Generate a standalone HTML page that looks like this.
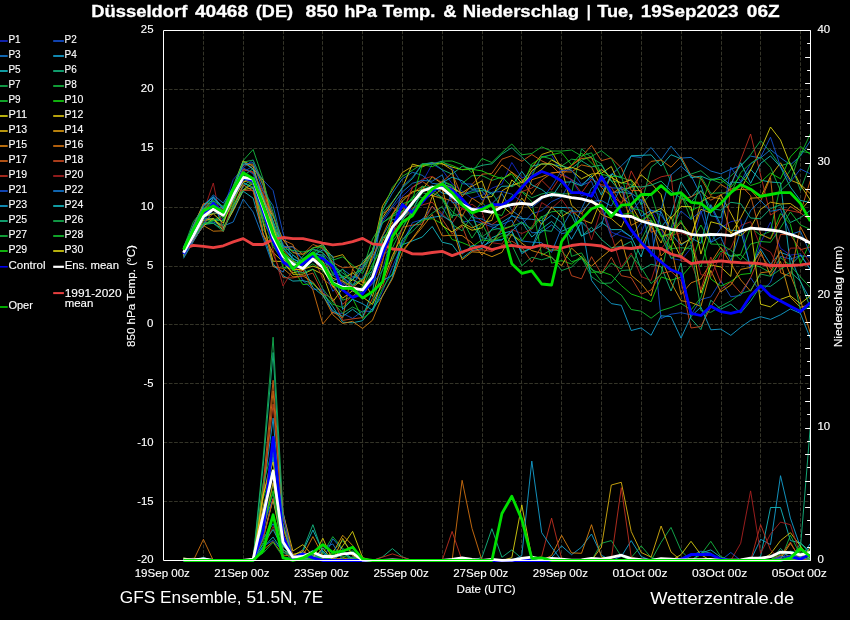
<!DOCTYPE html>
<html><head><meta charset="utf-8"><title>GFS Ensemble</title>
<style>html,body{margin:0;padding:0;background:#000;}body{width:850px;height:620px;position:relative;overflow:hidden;font-family:"Liberation Sans",sans-serif;}</style></head>
<body>
<svg width="850" height="620" viewBox="0 0 850 620" style="display:block;position:absolute;left:0;top:0;will-change:transform">
<rect width="850" height="620" fill="#000"/>
<g stroke="#343428" stroke-width="1" stroke-dasharray="3.7 1.6" fill="none">
<path d="M203.5 30.5 V560.5"/>
<path d="M243.5 30.5 V560.5"/>
<path d="M283.5 30.5 V560.5"/>
<path d="M322.5 30.5 V560.5"/>
<path d="M362.5 30.5 V560.5"/>
<path d="M402.5 30.5 V560.5"/>
<path d="M442.5 30.5 V560.5"/>
<path d="M482.5 30.5 V560.5"/>
<path d="M521.5 30.5 V560.5"/>
<path d="M561.5 30.5 V560.5"/>
<path d="M601.5 30.5 V560.5"/>
<path d="M641.5 30.5 V560.5"/>
<path d="M681.5 30.5 V560.5"/>
<path d="M721.5 30.5 V560.5"/>
<path d="M760.5 30.5 V560.5"/>
<path d="M800.5 30.5 V560.5"/>
<path d="M163.5 89.5 H810.5"/>
<path d="M163.5 148.5 H810.5"/>
<path d="M163.5 207.5 H810.5"/>
<path d="M163.5 266.5 H810.5"/>
<path d="M163.5 324.5 H810.5"/>
<path d="M163.5 383.5 H810.5"/>
<path d="M163.5 442.5 H810.5"/>
<path d="M163.5 501.5 H810.5"/>
</g>
<g fill="none" stroke-width="0.9" stroke-linejoin="round">
<path stroke="#1428c8" d="M183.5 252.5 L193.4 224.7 L203.4 204.6 L213.3 197.5 L223.3 208.9 L233.2 179.6 L243.2 167.7 L253.1 159.8 L263.1 185.4 L273.1 215.9 L283.0 245.0 L292.9 251.1 L302.9 258.5 L312.9 253.0 L322.8 263.0 L332.8 263.3 L342.7 285.6 L352.6 277.6 L362.6 265.4 L372.5 250.6 L382.5 222.4 L392.4 207.9 L402.4 196.3 L412.4 187.0 L422.3 182.1 L432.2 164.2 L442.2 169.8 L452.1 183.7 L462.1 191.1 L472.0 198.5 L482.0 195.1 L491.9 188.2 L501.9 184.1 L511.8 162.5 L521.8 178.0 L531.8 173.6 L541.7 156.7 L551.6 154.9 L561.6 173.2 L571.5 179.6 L581.5 195.8 L591.5 192.6 L601.4 205.5 L611.3 232.1 L621.3 236.0 L631.2 239.2 L641.2 232.8 L651.1 209.7 L661.1 228.0 L671.0 258.3 L681.0 260.3 L691.0 248.1 L700.9 211.8 L710.8 206.6 L720.8 227.7 L730.8 221.7 L740.7 219.5 L750.6 272.0 L760.6 242.7 L770.5 222.1 L780.5 248.3 L790.4 255.1 L800.4 253.8 L810.3 269.4"/>
<path stroke="#1450d0" d="M183.5 253.5 L193.4 235.2 L203.4 226.4 L213.3 208.8 L223.3 220.3 L233.2 202.8 L243.2 172.0 L253.1 166.0 L263.1 180.0 L273.1 190.5 L283.0 233.0 L292.9 262.0 L302.9 280.8 L312.9 289.2 L322.8 289.2 L332.8 312.9 L342.7 313.4 L352.6 318.4 L362.6 311.0 L372.5 311.5 L382.5 291.4 L392.4 267.1 L402.4 243.7 L412.4 222.6 L422.3 219.6 L432.2 206.4 L442.2 215.3 L452.1 192.5 L462.1 222.4 L472.0 220.2 L482.0 223.1 L491.9 226.9 L501.9 229.8 L511.8 214.8 L521.8 224.2 L531.8 213.8 L541.7 210.6 L551.6 201.6 L561.6 197.0 L571.5 179.6 L581.5 185.4 L591.5 181.3 L601.4 207.7 L611.3 237.3 L621.3 230.9 L631.2 236.9 L641.2 222.6 L651.1 221.6 L661.1 318.5 L671.0 314.2 L681.0 312.7 L691.0 314.9 L700.9 299.5 L710.8 296.8 L720.8 280.9 L730.8 296.8 L740.7 295.4 L750.6 277.7 L760.6 292.1 L770.5 282.4 L780.5 256.3 L790.4 259.1 L800.4 255.6 L810.3 257.1"/>
<path stroke="#1478d0" d="M183.5 254.9 L193.4 233.0 L203.4 223.3 L213.3 222.0 L223.3 226.0 L233.2 222.0 L243.2 199.0 L253.1 212.0 L263.1 238.0 L273.1 266.0 L283.0 272.0 L292.9 255.1 L302.9 262.1 L312.9 257.3 L322.8 265.7 L332.8 275.5 L342.7 269.3 L352.6 276.7 L362.6 279.1 L372.5 270.8 L382.5 210.2 L392.4 193.0 L402.4 178.8 L412.4 172.3 L422.3 175.3 L432.2 183.4 L442.2 184.4 L452.1 187.0 L462.1 194.5 L472.0 190.8 L482.0 190.9 L491.9 203.7 L501.9 193.7 L511.8 210.5 L521.8 217.5 L531.8 232.8 L541.7 232.2 L551.6 224.9 L561.6 233.6 L571.5 231.7 L581.5 208.9 L591.5 188.2 L601.4 180.2 L611.3 174.6 L621.3 165.9 L631.2 156.3 L641.2 157.4 L651.1 147.5 L661.1 159.9 L671.0 146.1 L681.0 158.1 L691.0 157.4 L700.9 164.7 L710.8 171.0 L720.8 173.8 L730.8 169.3 L740.7 165.7 L750.6 156.1 L760.6 158.0 L770.5 149.7 L780.5 157.7 L790.4 164.8 L800.4 156.1 L810.3 141.0"/>
<path stroke="#14a0d0" d="M183.5 250.7 L193.4 230.4 L203.4 217.0 L213.3 201.3 L223.3 228.0 L233.2 209.0 L243.2 186.0 L253.1 178.0 L263.1 196.0 L273.1 225.0 L283.0 256.6 L292.9 269.8 L302.9 260.9 L312.9 253.8 L322.8 255.1 L332.8 280.9 L342.7 276.8 L352.6 285.6 L362.6 279.0 L372.5 259.5 L382.5 236.0 L392.4 219.3 L402.4 219.1 L412.4 210.5 L422.3 190.1 L432.2 185.6 L442.2 193.1 L452.1 194.7 L462.1 202.3 L472.0 213.1 L482.0 244.4 L491.9 229.0 L501.9 222.4 L511.8 216.0 L521.8 218.5 L531.8 219.3 L541.7 220.8 L551.6 207.3 L561.6 207.5 L571.5 207.9 L581.5 235.9 L591.5 231.4 L601.4 225.6 L611.3 192.3 L621.3 192.1 L631.2 193.6 L641.2 216.2 L651.1 210.5 L661.1 211.8 L671.0 233.6 L681.0 245.3 L691.0 237.8 L700.9 243.3 L710.8 204.6 L720.8 224.8 L730.8 230.3 L740.7 230.6 L750.6 267.0 L760.6 248.9 L770.5 264.3 L780.5 252.4 L790.4 256.0 L800.4 281.7 L810.3 299.5"/>
<path stroke="#14b8c0" d="M183.5 258.3 L193.4 241.5 L203.4 224.5 L213.3 223.3 L223.3 229.3 L233.2 210.1 L243.2 191.2 L253.1 198.1 L263.1 233.9 L273.1 263.7 L283.0 275.7 L292.9 281.1 L302.9 280.6 L312.9 283.2 L322.8 293.0 L332.8 306.6 L342.7 322.2 L352.6 322.8 L362.6 320.7 L372.5 308.5 L382.5 296.1 L392.4 277.3 L402.4 244.7 L412.4 240.9 L422.3 237.0 L432.2 226.5 L442.2 242.2 L452.1 244.5 L462.1 258.1 L472.0 250.6 L482.0 248.6 L491.9 237.7 L501.9 233.4 L511.8 231.1 L521.8 221.8 L531.8 237.0 L541.7 228.7 L551.6 221.4 L561.6 231.3 L571.5 226.9 L581.5 221.9 L591.5 231.9 L601.4 222.3 L611.3 229.6 L621.3 229.6 L631.2 237.0 L641.2 257.0 L651.1 223.2 L661.1 227.1 L671.0 215.1 L681.0 181.8 L691.0 197.4 L700.9 185.2 L710.8 215.8 L720.8 217.5 L730.8 181.9 L740.7 182.8 L750.6 169.4 L760.6 180.2 L770.5 182.0 L780.5 182.8 L790.4 265.3 L800.4 255.0 L810.3 269.2"/>
<path stroke="#14b880" d="M183.5 253.6 L193.4 237.3 L203.4 218.2 L213.3 218.8 L223.3 220.8 L233.2 195.1 L243.2 175.7 L253.1 168.8 L263.1 197.5 L273.1 226.0 L283.0 245.0 L292.9 254.8 L302.9 263.5 L312.9 251.8 L322.8 257.0 L332.8 272.8 L342.7 276.1 L352.6 280.1 L362.6 267.1 L372.5 249.9 L382.5 223.0 L392.4 214.8 L402.4 207.8 L412.4 198.7 L422.3 187.2 L432.2 193.0 L442.2 197.4 L452.1 215.7 L462.1 214.3 L472.0 225.6 L482.0 237.7 L491.9 239.9 L501.9 239.9 L511.8 230.9 L521.8 252.1 L531.8 247.8 L541.7 230.2 L551.6 231.3 L561.6 209.9 L571.5 215.4 L581.5 236.3 L591.5 227.3 L601.4 239.4 L611.3 247.7 L621.3 246.5 L631.2 241.4 L641.2 270.0 L651.1 264.3 L661.1 266.6 L671.0 291.0 L681.0 263.0 L691.0 318.6 L700.9 329.6 L710.8 300.2 L720.8 309.2 L730.8 304.2 L740.7 313.0 L750.6 301.1 L760.6 285.9 L770.5 286.3 L780.5 279.1 L790.4 272.0 L800.4 281.0 L810.3 307.7"/>
<path stroke="#14b050" d="M183.5 250.1 L193.4 230.7 L203.4 220.0 L213.3 220.4 L223.3 220.7 L233.2 199.2 L243.2 179.3 L253.1 184.8 L263.1 229.3 L273.1 244.7 L283.0 258.9 L292.9 265.2 L302.9 268.1 L312.9 254.7 L322.8 268.9 L332.8 275.3 L342.7 281.4 L352.6 288.4 L362.6 292.4 L372.5 270.1 L382.5 252.3 L392.4 241.3 L402.4 228.5 L412.4 210.6 L422.3 198.3 L432.2 186.9 L442.2 181.7 L452.1 185.8 L462.1 194.7 L472.0 192.7 L482.0 190.3 L491.9 192.7 L501.9 207.9 L511.8 196.3 L521.8 191.1 L531.8 197.7 L541.7 193.9 L551.6 192.0 L561.6 194.0 L571.5 193.7 L581.5 148.7 L591.5 157.8 L601.4 164.1 L611.3 181.0 L621.3 182.5 L631.2 184.5 L641.2 204.3 L651.1 167.3 L661.1 159.3 L671.0 181.7 L681.0 178.4 L691.0 174.1 L700.9 170.7 L710.8 179.1 L720.8 183.3 L730.8 176.0 L740.7 166.5 L750.6 154.7 L760.6 140.7 L770.5 152.2 L780.5 165.8 L790.4 162.8 L800.4 190.3 L810.3 163.8"/>
<path stroke="#14b840" d="M183.5 255.7 L193.4 239.2 L203.4 225.3 L213.3 220.5 L223.3 225.2 L233.2 186.0 L243.2 160.5 L253.1 149.5 L263.1 179.0 L273.1 222.0 L283.0 258.3 L292.9 263.9 L302.9 269.6 L312.9 263.8 L322.8 270.8 L332.8 283.2 L342.7 300.2 L352.6 296.6 L362.6 286.0 L372.5 278.0 L382.5 255.1 L392.4 248.0 L402.4 227.6 L412.4 210.3 L422.3 192.7 L432.2 195.1 L442.2 199.0 L452.1 218.1 L462.1 183.4 L472.0 175.7 L482.0 175.5 L491.9 180.4 L501.9 177.0 L511.8 186.9 L521.8 180.7 L531.8 176.2 L541.7 156.3 L551.6 159.1 L561.6 166.0 L571.5 159.2 L581.5 160.3 L591.5 156.4 L601.4 150.8 L611.3 158.4 L621.3 177.5 L631.2 180.9 L641.2 205.0 L651.1 193.4 L661.1 225.7 L671.0 248.6 L681.0 247.7 L691.0 248.6 L700.9 267.0 L710.8 232.9 L720.8 248.8 L730.8 256.5 L740.7 255.0 L750.6 263.7 L760.6 267.2 L770.5 272.7 L780.5 257.5 L790.4 265.6 L800.4 276.9 L810.3 287.6"/>
<path stroke="#14c030" d="M183.5 247.9 L193.4 227.4 L203.4 203.9 L213.3 200.6 L223.3 211.9 L233.2 196.0 L243.2 182.6 L253.1 187.1 L263.1 208.0 L273.1 227.1 L283.0 253.6 L292.9 261.0 L302.9 269.9 L312.9 256.6 L322.8 246.7 L332.8 263.7 L342.7 277.0 L352.6 273.6 L362.6 269.8 L372.5 239.1 L382.5 222.7 L392.4 216.6 L402.4 211.0 L412.4 196.9 L422.3 197.8 L432.2 194.8 L442.2 180.8 L452.1 185.3 L462.1 202.1 L472.0 213.8 L482.0 202.3 L491.9 213.2 L501.9 215.5 L511.8 196.3 L521.8 191.9 L531.8 201.5 L541.7 255.3 L551.6 249.5 L561.6 251.2 L571.5 261.7 L581.5 258.8 L591.5 268.3 L601.4 281.5 L611.3 288.6 L621.3 295.0 L631.2 309.5 L641.2 311.2 L651.1 318.2 L661.1 310.6 L671.0 307.5 L681.0 303.4 L691.0 309.9 L700.9 297.7 L710.8 264.8 L720.8 251.1 L730.8 255.9 L740.7 254.3 L750.6 227.3 L760.6 235.4 L770.5 231.3 L780.5 185.0 L790.4 170.0 L800.4 155.0 L810.3 134.0"/>
<path stroke="#14d010" d="M183.5 253.1 L193.4 228.8 L203.4 214.7 L213.3 207.7 L223.3 212.8 L233.2 190.6 L243.2 176.0 L253.1 177.8 L263.1 215.9 L273.1 229.4 L283.0 267.5 L292.9 268.5 L302.9 284.6 L312.9 283.6 L322.8 294.3 L332.8 304.2 L342.7 307.6 L352.6 298.4 L362.6 318.5 L372.5 310.8 L382.5 288.4 L392.4 273.5 L402.4 245.9 L412.4 226.2 L422.3 220.3 L432.2 218.6 L442.2 223.8 L452.1 239.5 L462.1 242.6 L472.0 246.8 L482.0 239.8 L491.9 241.4 L501.9 235.9 L511.8 234.7 L521.8 241.0 L531.8 226.6 L541.7 216.0 L551.6 263.2 L561.6 260.6 L571.5 264.0 L581.5 256.2 L591.5 272.4 L601.4 271.6 L611.3 275.1 L621.3 285.5 L631.2 294.0 L641.2 297.4 L651.1 301.7 L661.1 276.9 L671.0 280.2 L681.0 277.1 L691.0 265.7 L700.9 234.3 L710.8 279.0 L720.8 286.0 L730.8 281.5 L740.7 274.5 L750.6 273.4 L760.6 234.5 L770.5 238.5 L780.5 213.5 L790.4 224.2 L800.4 263.7 L810.3 241.6"/>
<path stroke="#d8d010" d="M183.5 256.9 L193.4 239.8 L203.4 220.4 L213.3 218.7 L223.3 230.3 L233.2 205.4 L243.2 189.7 L253.1 183.2 L263.1 222.5 L273.1 261.2 L283.0 261.5 L292.9 274.3 L302.9 274.2 L312.9 269.4 L322.8 274.4 L332.8 301.7 L342.7 288.5 L352.6 279.5 L362.6 285.4 L372.5 253.5 L382.5 217.6 L392.4 202.4 L402.4 187.9 L412.4 164.1 L422.3 166.8 L432.2 162.9 L442.2 163.8 L452.1 167.1 L462.1 169.7 L472.0 168.2 L482.0 197.5 L491.9 196.6 L501.9 179.5 L511.8 172.2 L521.8 183.1 L531.8 176.1 L541.7 169.6 L551.6 160.0 L561.6 165.4 L571.5 170.7 L581.5 178.8 L591.5 174.0 L601.4 173.3 L611.3 166.5 L621.3 189.5 L631.2 187.6 L641.2 174.8 L651.1 183.3 L661.1 194.6 L671.0 237.7 L681.0 257.4 L691.0 235.0 L700.9 293.1 L710.8 264.9 L720.8 267.0 L730.8 276.4 L740.7 190.0 L750.6 170.0 L760.6 150.0 L770.5 127.0 L780.5 140.0 L790.4 165.0 L800.4 185.0 L810.3 200.0"/>
<path stroke="#d8c010" d="M183.5 255.7 L193.4 239.5 L203.4 226.1 L213.3 218.5 L223.3 227.6 L233.2 210.9 L243.2 189.8 L253.1 187.7 L263.1 234.1 L273.1 252.5 L283.0 261.8 L292.9 272.9 L302.9 270.4 L312.9 259.9 L322.8 261.3 L332.8 278.4 L342.7 281.0 L352.6 287.4 L362.6 279.5 L372.5 296.4 L382.5 261.9 L392.4 214.5 L402.4 201.0 L412.4 191.6 L422.3 189.6 L432.2 176.8 L442.2 183.7 L452.1 188.4 L462.1 192.9 L472.0 186.3 L482.0 180.9 L491.9 207.4 L501.9 205.7 L511.8 214.2 L521.8 198.1 L531.8 211.0 L541.7 224.6 L551.6 207.0 L561.6 216.6 L571.5 210.3 L581.5 219.4 L591.5 223.4 L601.4 198.8 L611.3 175.1 L621.3 197.1 L631.2 205.0 L641.2 222.4 L651.1 212.4 L661.1 236.6 L671.0 234.2 L681.0 222.4 L691.0 235.1 L700.9 209.3 L710.8 213.0 L720.8 194.5 L730.8 213.2 L740.7 232.1 L750.6 227.6 L760.6 209.4 L770.5 202.2 L780.5 204.0 L790.4 203.5 L800.4 210.7 L810.3 199.1"/>
<path stroke="#d8b010" d="M183.5 255.0 L193.4 232.9 L203.4 209.3 L213.3 206.7 L223.3 208.3 L233.2 187.8 L243.2 160.9 L253.1 166.2 L263.1 199.8 L273.1 216.0 L283.0 239.7 L292.9 252.6 L302.9 254.4 L312.9 247.9 L322.8 244.8 L332.8 257.5 L342.7 254.6 L352.6 268.3 L362.6 263.9 L372.5 250.9 L382.5 205.8 L392.4 189.9 L402.4 172.5 L412.4 166.4 L422.3 165.4 L432.2 163.7 L442.2 163.7 L452.1 169.9 L462.1 222.6 L472.0 228.0 L482.0 223.2 L491.9 220.4 L501.9 190.8 L511.8 185.2 L521.8 182.5 L531.8 167.8 L541.7 154.5 L551.6 151.2 L561.6 168.4 L571.5 205.3 L581.5 213.8 L591.5 199.3 L601.4 214.4 L611.3 218.6 L621.3 227.2 L631.2 205.7 L641.2 246.8 L651.1 226.2 L661.1 243.0 L671.0 216.5 L681.0 244.0 L691.0 239.0 L700.9 201.6 L710.8 196.8 L720.8 198.8 L730.8 233.5 L740.7 217.9 L750.6 198.2 L760.6 197.6 L770.5 176.3 L780.5 162.8 L790.4 180.1 L800.4 184.2 L810.3 193.7"/>
<path stroke="#d89810" d="M183.5 249.7 L193.4 225.7 L203.4 203.9 L213.3 203.7 L223.3 212.2 L233.2 189.2 L243.2 161.3 L253.1 168.8 L263.1 180.2 L273.1 226.6 L283.0 250.0 L292.9 261.5 L302.9 264.3 L312.9 254.9 L322.8 263.4 L332.8 287.2 L342.7 279.7 L352.6 272.5 L362.6 282.3 L372.5 282.0 L382.5 241.6 L392.4 221.9 L402.4 250.8 L412.4 238.5 L422.3 224.7 L432.2 196.5 L442.2 188.7 L452.1 225.4 L462.1 259.7 L472.0 251.9 L482.0 252.5 L491.9 256.7 L501.9 252.4 L511.8 234.4 L521.8 243.1 L531.8 250.6 L541.7 253.4 L551.6 257.6 L561.6 265.8 L571.5 248.0 L581.5 257.4 L591.5 266.2 L601.4 257.4 L611.3 249.1 L621.3 239.5 L631.2 275.3 L641.2 283.5 L651.1 295.9 L661.1 257.7 L671.0 282.3 L681.0 300.7 L691.0 302.5 L700.9 306.4 L710.8 270.4 L720.8 291.9 L730.8 285.0 L740.7 269.4 L750.6 267.4 L760.6 251.3 L770.5 275.6 L780.5 261.5 L790.4 297.3 L800.4 307.3 L810.3 304.6"/>
<path stroke="#d88010" d="M183.5 255.4 L193.4 240.8 L203.4 225.5 L213.3 231.2 L223.3 230.8 L233.2 206.4 L243.2 184.8 L253.1 191.1 L263.1 220.8 L273.1 266.6 L283.0 268.3 L292.9 276.9 L302.9 275.8 L312.9 282.1 L322.8 294.7 L332.8 314.7 L342.7 323.5 L352.6 321.3 L362.6 328.5 L372.5 320.2 L382.5 296.0 L392.4 278.8 L402.4 252.2 L412.4 239.1 L422.3 227.2 L432.2 214.5 L442.2 235.9 L452.1 235.2 L462.1 235.6 L472.0 242.8 L482.0 255.0 L491.9 243.0 L501.9 230.2 L511.8 225.9 L521.8 209.9 L531.8 179.7 L541.7 176.7 L551.6 172.8 L561.6 172.2 L571.5 165.3 L581.5 158.5 L591.5 157.6 L601.4 179.1 L611.3 194.4 L621.3 187.2 L631.2 225.4 L641.2 220.1 L651.1 220.6 L661.1 256.0 L671.0 245.5 L681.0 294.6 L691.0 282.9 L700.9 279.1 L710.8 262.8 L720.8 247.2 L730.8 263.5 L740.7 279.9 L750.6 291.2 L760.6 272.8 L770.5 271.5 L780.5 250.0 L790.4 275.0 L800.4 300.0 L810.3 333.0"/>
<path stroke="#d07010" d="M183.5 253.0 L193.4 235.6 L203.4 208.7 L213.3 204.2 L223.3 211.8 L233.2 187.5 L243.2 165.0 L253.1 164.1 L263.1 185.3 L273.1 228.7 L283.0 239.9 L292.9 244.5 L302.9 270.0 L312.9 290.0 L322.8 324.0 L332.8 312.0 L342.7 318.0 L352.6 269.0 L362.6 283.0 L372.5 256.8 L382.5 235.4 L392.4 213.9 L402.4 198.2 L412.4 192.9 L422.3 186.2 L432.2 196.0 L442.2 197.8 L452.1 201.1 L462.1 216.4 L472.0 198.1 L482.0 204.7 L491.9 178.6 L501.9 164.9 L511.8 172.3 L521.8 179.3 L531.8 194.5 L541.7 180.0 L551.6 173.2 L561.6 171.5 L571.5 172.1 L581.5 164.9 L591.5 167.1 L601.4 187.5 L611.3 196.2 L621.3 202.6 L631.2 194.6 L641.2 171.4 L651.1 161.4 L661.1 160.0 L671.0 167.2 L681.0 156.7 L691.0 175.4 L700.9 178.4 L710.8 195.5 L720.8 184.4 L730.8 190.5 L740.7 189.3 L750.6 190.0 L760.6 201.2 L770.5 177.7 L780.5 272.7 L790.4 276.4 L800.4 226.7 L810.3 245.4"/>
<path stroke="#d06018" d="M183.5 254.2 L193.4 237.9 L203.4 223.6 L213.3 213.3 L223.3 213.9 L233.2 192.5 L243.2 169.1 L253.1 172.4 L263.1 194.3 L273.1 214.4 L283.0 247.9 L292.9 246.3 L302.9 254.5 L312.9 244.4 L322.8 248.2 L332.8 262.4 L342.7 267.8 L352.6 266.9 L362.6 269.3 L372.5 251.8 L382.5 213.7 L392.4 207.5 L402.4 213.8 L412.4 187.4 L422.3 181.4 L432.2 188.3 L442.2 181.8 L452.1 173.1 L462.1 197.0 L472.0 184.4 L482.0 174.2 L491.9 173.4 L501.9 159.2 L511.8 155.7 L521.8 161.3 L531.8 154.5 L541.7 160.8 L551.6 165.6 L561.6 175.7 L571.5 165.5 L581.5 157.1 L591.5 145.3 L601.4 160.7 L611.3 157.9 L621.3 167.9 L631.2 190.5 L641.2 190.6 L651.1 232.3 L661.1 229.0 L671.0 240.3 L681.0 199.8 L691.0 196.8 L700.9 191.4 L710.8 200.2 L720.8 194.9 L730.8 189.3 L740.7 185.4 L750.6 195.6 L760.6 234.1 L770.5 239.1 L780.5 219.1 L790.4 206.4 L800.4 212.8 L810.3 180.5"/>
<path stroke="#c84820" d="M183.5 249.0 L193.4 230.4 L203.4 213.5 L213.3 203.4 L223.3 214.2 L233.2 188.6 L243.2 190.5 L253.1 190.3 L263.1 235.4 L273.1 253.9 L283.0 277.7 L292.9 277.9 L302.9 276.1 L312.9 273.1 L322.8 293.4 L332.8 298.5 L342.7 320.4 L352.6 318.9 L362.6 317.6 L372.5 298.4 L382.5 286.6 L392.4 260.2 L402.4 227.3 L412.4 225.1 L422.3 224.2 L432.2 206.1 L442.2 219.2 L452.1 233.8 L462.1 226.2 L472.0 251.3 L482.0 249.8 L491.9 251.5 L501.9 245.4 L511.8 241.1 L521.8 247.3 L531.8 262.2 L541.7 246.3 L551.6 250.7 L561.6 248.1 L571.5 275.7 L581.5 278.8 L591.5 256.7 L601.4 273.8 L611.3 257.2 L621.3 275.7 L631.2 277.7 L641.2 294.2 L651.1 290.0 L661.1 273.4 L671.0 271.4 L681.0 280.5 L691.0 328.0 L700.9 326.5 L710.8 307.2 L720.8 289.5 L730.8 281.9 L740.7 293.0 L750.6 277.7 L760.6 254.3 L770.5 268.6 L780.5 234.4 L790.4 234.9 L800.4 249.8 L810.3 246.9"/>
<path stroke="#c03020" d="M183.5 252.0 L193.4 239.0 L203.4 203.6 L213.3 207.7 L223.3 209.9 L233.2 193.6 L243.2 169.8 L253.1 172.0 L263.1 191.7 L273.1 230.9 L283.0 256.8 L292.9 266.4 L302.9 272.7 L312.9 254.9 L322.8 279.2 L332.8 286.2 L342.7 304.3 L352.6 295.8 L362.6 292.9 L372.5 283.5 L382.5 260.0 L392.4 234.1 L402.4 220.2 L412.4 207.8 L422.3 205.0 L432.2 202.2 L442.2 213.9 L452.1 223.2 L462.1 208.7 L472.0 212.9 L482.0 221.8 L491.9 224.6 L501.9 218.0 L511.8 212.1 L521.8 191.6 L531.8 188.1 L541.7 180.3 L551.6 190.1 L561.6 174.9 L571.5 179.6 L581.5 192.9 L591.5 179.1 L601.4 184.7 L611.3 187.0 L621.3 205.2 L631.2 170.9 L641.2 189.8 L651.1 181.8 L661.1 176.8 L671.0 174.9 L681.0 261.0 L691.0 262.1 L700.9 289.7 L710.8 257.0 L720.8 282.9 L730.8 185.0 L740.7 160.0 L750.6 134.0 L760.6 175.0 L770.5 215.0 L780.5 208.9 L790.4 210.7 L800.4 212.8 L810.3 220.5"/>
<path stroke="#a82020" d="M183.5 252.9 L193.4 233.5 L203.4 212.0 L213.3 183.0 L223.3 232.0 L233.2 200.0 L243.2 181.5 L253.1 181.3 L263.1 209.3 L273.1 250.0 L283.0 286.0 L292.9 270.0 L302.9 268.9 L312.9 257.2 L322.8 264.1 L332.8 268.6 L342.7 282.7 L352.6 285.7 L362.6 291.0 L372.5 277.1 L382.5 250.8 L392.4 234.8 L402.4 212.6 L412.4 187.4 L422.3 179.3 L432.2 176.3 L442.2 182.6 L452.1 199.5 L462.1 208.9 L472.0 204.2 L482.0 211.6 L491.9 242.7 L501.9 244.1 L511.8 229.5 L521.8 233.5 L531.8 229.2 L541.7 202.6 L551.6 208.5 L561.6 199.4 L571.5 213.1 L581.5 211.1 L591.5 239.9 L601.4 208.8 L611.3 234.5 L621.3 267.2 L631.2 253.0 L641.2 276.6 L651.1 280.5 L661.1 249.2 L671.0 235.4 L681.0 232.7 L691.0 237.0 L700.9 274.7 L710.8 276.5 L720.8 253.4 L730.8 248.3 L740.7 225.4 L750.6 221.7 L760.6 246.5 L770.5 252.1 L780.5 270.7 L790.4 248.1 L800.4 248.1 L810.3 263.6"/>
<path stroke="#1450d0" d="M183.5 257.0 L193.4 240.7 L203.4 225.1 L213.3 196.4 L223.3 208.4 L233.2 190.4 L243.2 167.6 L253.1 174.0 L263.1 200.2 L273.1 227.9 L283.0 255.7 L292.9 267.2 L302.9 268.2 L312.9 260.9 L322.8 265.9 L332.8 291.3 L342.7 282.5 L352.6 291.3 L362.6 292.7 L372.5 284.2 L382.5 270.4 L392.4 233.3 L402.4 186.5 L412.4 177.4 L422.3 163.8 L432.2 163.5 L442.2 161.4 L452.1 168.4 L462.1 183.8 L472.0 184.1 L482.0 200.2 L491.9 192.2 L501.9 191.5 L511.8 194.1 L521.8 201.7 L531.8 207.5 L541.7 199.6 L551.6 186.2 L561.6 170.4 L571.5 170.0 L581.5 184.4 L591.5 177.8 L601.4 186.5 L611.3 187.8 L621.3 188.3 L631.2 212.1 L641.2 199.5 L651.1 210.3 L661.1 215.1 L671.0 229.9 L681.0 211.0 L691.0 219.6 L700.9 210.9 L710.8 242.3 L720.8 228.2 L730.8 167.3 L740.7 181.5 L750.6 163.9 L760.6 157.4 L770.5 137.2 L780.5 166.3 L790.4 181.9 L800.4 169.0 L810.3 173.8"/>
<path stroke="#1478d0" d="M183.5 247.0 L193.4 226.0 L203.4 207.0 L213.3 194.9 L223.3 203.1 L233.2 186.8 L243.2 164.5 L253.1 162.6 L263.1 190.6 L273.1 205.8 L283.0 246.7 L292.9 247.0 L302.9 260.1 L312.9 248.9 L322.8 252.6 L332.8 263.8 L342.7 277.9 L352.6 285.7 L362.6 268.4 L372.5 254.0 L382.5 219.8 L392.4 205.9 L402.4 191.9 L412.4 183.3 L422.3 180.4 L432.2 181.2 L442.2 174.9 L452.1 202.7 L462.1 203.0 L472.0 217.3 L482.0 219.0 L491.9 225.1 L501.9 224.4 L511.8 220.1 L521.8 241.0 L531.8 242.1 L541.7 242.7 L551.6 252.3 L561.6 227.9 L571.5 211.0 L581.5 211.3 L591.5 201.5 L601.4 200.4 L611.3 206.1 L621.3 186.7 L631.2 193.2 L641.2 199.9 L651.1 256.6 L661.1 209.6 L671.0 174.9 L681.0 166.4 L691.0 175.3 L700.9 195.7 L710.8 242.5 L720.8 236.9 L730.8 261.0 L740.7 231.2 L750.6 210.6 L760.6 200.4 L770.5 211.3 L780.5 209.3 L790.4 234.6 L800.4 231.1 L810.3 253.4"/>
<path stroke="#14a0d0" d="M183.5 253.9 L193.4 234.4 L203.4 209.9 L213.3 198.5 L223.3 209.1 L233.2 199.9 L243.2 182.6 L253.1 188.6 L263.1 216.6 L273.1 233.0 L283.0 248.2 L292.9 259.3 L302.9 262.2 L312.9 256.3 L322.8 249.7 L332.8 256.3 L342.7 309.5 L352.6 299.4 L362.6 303.7 L372.5 310.3 L382.5 280.6 L392.4 275.3 L402.4 239.9 L412.4 227.2 L422.3 219.0 L432.2 217.4 L442.2 215.8 L452.1 221.8 L462.1 254.1 L472.0 245.6 L482.0 246.3 L491.9 241.3 L501.9 239.8 L511.8 231.4 L521.8 253.7 L531.8 247.6 L541.7 222.9 L551.6 215.1 L561.6 222.5 L571.5 239.3 L581.5 222.1 L591.5 280.3 L601.4 293.6 L611.3 303.6 L621.3 305.3 L631.2 330.5 L641.2 327.9 L651.1 335.3 L661.1 315.8 L671.0 316.6 L681.0 338.1 L691.0 316.4 L700.9 307.1 L710.8 329.8 L720.8 329.1 L730.8 335.4 L740.7 327.3 L750.6 320.3 L760.6 316.7 L770.5 319.4 L780.5 314.8 L790.4 308.9 L800.4 313.4 L810.3 338.3"/>
<path stroke="#14b8c0" d="M183.5 248.0 L193.4 231.6 L203.4 205.7 L213.3 197.0 L223.3 207.5 L233.2 191.0 L243.2 162.1 L253.1 169.1 L263.1 199.0 L273.1 221.0 L283.0 247.3 L292.9 258.1 L302.9 265.5 L312.9 287.3 L322.8 295.6 L332.8 310.7 L342.7 316.4 L352.6 309.3 L362.6 316.9 L372.5 291.5 L382.5 237.5 L392.4 235.7 L402.4 220.0 L412.4 205.0 L422.3 190.3 L432.2 190.0 L442.2 182.7 L452.1 177.1 L462.1 180.7 L472.0 189.3 L482.0 188.5 L491.9 194.3 L501.9 186.3 L511.8 186.0 L521.8 171.4 L531.8 184.9 L541.7 189.5 L551.6 197.2 L561.6 182.3 L571.5 181.9 L581.5 186.0 L591.5 175.4 L601.4 195.0 L611.3 174.1 L621.3 178.0 L631.2 155.7 L641.2 155.4 L651.1 154.9 L661.1 166.1 L671.0 154.7 L681.0 158.8 L691.0 177.8 L700.9 176.1 L710.8 180.2 L720.8 177.1 L730.8 185.1 L740.7 162.8 L750.6 183.3 L760.6 163.4 L770.5 155.9 L780.5 166.9 L790.4 187.1 L800.4 200.4 L810.3 202.6"/>
<path stroke="#14b880" d="M183.5 255.7 L193.4 238.7 L203.4 217.5 L213.3 213.1 L223.3 212.8 L233.2 200.8 L243.2 173.1 L253.1 180.8 L263.1 208.8 L273.1 224.0 L283.0 252.7 L292.9 262.8 L302.9 262.1 L312.9 253.8 L322.8 243.4 L332.8 265.0 L342.7 273.0 L352.6 279.8 L362.6 261.7 L372.5 251.0 L382.5 213.1 L392.4 201.8 L402.4 187.7 L412.4 178.7 L422.3 164.5 L432.2 162.3 L442.2 169.7 L452.1 174.2 L462.1 166.3 L472.0 168.9 L482.0 165.3 L491.9 163.8 L501.9 154.1 L511.8 147.6 L521.8 157.1 L531.8 166.3 L541.7 163.9 L551.6 164.4 L561.6 166.2 L571.5 168.5 L581.5 160.9 L591.5 166.9 L601.4 165.0 L611.3 181.1 L621.3 192.5 L631.2 186.4 L641.2 187.0 L651.1 185.2 L661.1 181.1 L671.0 191.1 L681.0 198.1 L691.0 202.3 L700.9 190.3 L710.8 208.3 L720.8 210.2 L730.8 202.3 L740.7 203.7 L750.6 218.0 L760.6 218.7 L770.5 208.6 L780.5 204.8 L790.4 222.5 L800.4 217.7 L810.3 210.4"/>
<path stroke="#14b050" d="M183.5 250.5 L193.4 238.4 L203.4 223.3 L213.3 223.3 L223.3 231.3 L233.2 205.8 L243.2 190.3 L253.1 180.0 L263.1 222.2 L273.1 239.0 L283.0 251.5 L292.9 270.4 L302.9 272.9 L312.9 269.0 L322.8 288.8 L332.8 301.9 L342.7 313.3 L352.6 307.0 L362.6 312.2 L372.5 302.8 L382.5 269.1 L392.4 259.5 L402.4 239.4 L412.4 231.4 L422.3 221.4 L432.2 213.2 L442.2 206.6 L452.1 224.4 L462.1 230.8 L472.0 215.7 L482.0 236.8 L491.9 230.0 L501.9 227.9 L511.8 244.8 L521.8 265.7 L531.8 257.3 L541.7 259.8 L551.6 256.8 L561.6 270.6 L571.5 267.0 L581.5 257.3 L591.5 276.7 L601.4 283.6 L611.3 282.9 L621.3 270.5 L631.2 269.9 L641.2 240.5 L651.1 220.0 L661.1 235.8 L671.0 258.3 L681.0 253.8 L691.0 244.7 L700.9 310.7 L710.8 312.3 L720.8 306.3 L730.8 300.8 L740.7 293.7 L750.6 290.4 L760.6 274.0 L770.5 276.3 L780.5 269.2 L790.4 263.2 L800.4 310.2 L810.3 307.4"/>
<path stroke="#14b840" d="M183.5 247.7 L193.4 221.7 L203.4 208.8 L213.3 201.0 L223.3 206.3 L233.2 187.0 L243.2 162.1 L253.1 160.1 L263.1 183.4 L273.1 212.3 L283.0 248.6 L292.9 250.4 L302.9 252.0 L312.9 249.6 L322.8 252.7 L332.8 274.5 L342.7 269.3 L352.6 284.8 L362.6 279.2 L372.5 267.6 L382.5 237.9 L392.4 227.1 L402.4 210.9 L412.4 205.9 L422.3 186.3 L432.2 187.8 L442.2 198.3 L452.1 211.4 L462.1 219.3 L472.0 238.1 L482.0 223.5 L491.9 242.4 L501.9 228.5 L511.8 226.3 L521.8 222.5 L531.8 229.0 L541.7 217.0 L551.6 211.8 L561.6 210.7 L571.5 256.4 L581.5 252.9 L591.5 269.5 L601.4 273.9 L611.3 263.1 L621.3 269.0 L631.2 255.3 L641.2 267.4 L651.1 283.6 L661.1 274.2 L671.0 228.0 L681.0 193.9 L691.0 219.2 L700.9 176.4 L710.8 193.3 L720.8 192.8 L730.8 193.4 L740.7 172.6 L750.6 163.4 L760.6 156.8 L770.5 167.4 L780.5 190.9 L790.4 181.6 L800.4 151.2 L810.3 153.0"/>
<path stroke="#14c030" d="M183.5 254.0 L193.4 238.0 L203.4 223.6 L213.3 220.4 L223.3 215.2 L233.2 193.0 L243.2 178.3 L253.1 183.6 L263.1 217.0 L273.1 246.6 L283.0 260.7 L292.9 269.9 L302.9 256.0 L312.9 248.0 L322.8 246.4 L332.8 260.2 L342.7 256.8 L352.6 265.2 L362.6 273.7 L372.5 251.0 L382.5 210.6 L392.4 187.3 L402.4 176.4 L412.4 170.3 L422.3 163.7 L432.2 164.7 L442.2 161.1 L452.1 161.0 L462.1 164.5 L472.0 172.4 L482.0 158.5 L491.9 162.5 L501.9 152.7 L511.8 144.0 L521.8 154.8 L531.8 153.5 L541.7 146.9 L551.6 151.0 L561.6 151.1 L571.5 150.0 L581.5 156.0 L591.5 152.8 L601.4 174.2 L611.3 176.6 L621.3 176.2 L631.2 208.1 L641.2 210.4 L651.1 219.5 L661.1 236.7 L671.0 233.2 L681.0 220.3 L691.0 243.8 L700.9 225.0 L710.8 244.0 L720.8 244.4 L730.8 250.2 L740.7 259.9 L750.6 244.0 L760.6 241.5 L770.5 242.3 L780.5 227.7 L790.4 212.0 L800.4 224.8 L810.3 229.5"/>
<path stroke="#14d010" d="M183.5 249.6 L193.4 236.1 L203.4 211.8 L213.3 202.5 L223.3 218.6 L233.2 204.2 L243.2 176.5 L253.1 180.0 L263.1 208.0 L273.1 228.4 L283.0 252.7 L292.9 260.2 L302.9 267.9 L312.9 259.1 L322.8 257.6 L332.8 263.8 L342.7 279.2 L352.6 288.8 L362.6 288.5 L372.5 264.0 L382.5 247.7 L392.4 216.6 L402.4 203.8 L412.4 200.4 L422.3 164.4 L432.2 166.7 L442.2 162.3 L452.1 165.4 L462.1 169.8 L472.0 169.3 L482.0 170.9 L491.9 175.3 L501.9 178.8 L511.8 174.1 L521.8 188.2 L531.8 164.1 L541.7 157.6 L551.6 154.7 L561.6 152.5 L571.5 164.8 L581.5 153.0 L591.5 163.0 L601.4 173.0 L611.3 199.2 L621.3 214.6 L631.2 212.9 L641.2 220.2 L651.1 214.5 L661.1 234.3 L671.0 250.4 L681.0 194.6 L691.0 210.7 L700.9 205.9 L710.8 179.0 L720.8 179.5 L730.8 187.3 L740.7 175.8 L750.6 185.5 L760.6 182.3 L770.5 173.0 L780.5 178.8 L790.4 156.9 L800.4 146.3 L810.3 154.4"/>
<path stroke="#d8d010" d="M183.5 254.3 L193.4 239.0 L203.4 216.1 L213.3 213.8 L223.3 223.0 L233.2 199.6 L243.2 182.2 L253.1 178.2 L263.1 200.2 L273.1 227.0 L283.0 258.8 L292.9 269.8 L302.9 269.3 L312.9 266.1 L322.8 269.6 L332.8 285.6 L342.7 298.2 L352.6 290.7 L362.6 296.9 L372.5 304.4 L382.5 282.5 L392.4 255.6 L402.4 235.1 L412.4 212.3 L422.3 200.2 L432.2 194.5 L442.2 225.7 L452.1 231.9 L462.1 224.8 L472.0 230.2 L482.0 227.9 L491.9 213.8 L501.9 204.1 L511.8 179.9 L521.8 188.9 L531.8 170.7 L541.7 164.0 L551.6 163.7 L561.6 169.3 L571.5 167.2 L581.5 170.8 L591.5 177.3 L601.4 169.4 L611.3 177.4 L621.3 183.3 L631.2 179.6 L641.2 193.0 L651.1 213.5 L661.1 208.3 L671.0 218.4 L681.0 206.4 L691.0 206.7 L700.9 254.1 L710.8 221.8 L720.8 224.4 L730.8 232.8 L740.7 235.6 L750.6 227.3 L760.6 304.2 L770.5 306.9 L780.5 299.4 L790.4 295.8 L800.4 303.7 L810.3 295.7"/>
<path stroke="#1428c8" d="M183.5 560.0 L193.4 559.4 L203.4 559.2 L213.3 560.5 L223.3 560.5 L233.2 560.5 L243.2 560.5 L253.1 559.6 L263.1 527.2 L273.1 498.4 L283.0 534.1 L292.9 557.1 L302.9 560.5 L312.9 560.5 L322.8 560.5 L332.8 560.5 L342.7 560.5 L352.6 560.5 L362.6 560.5 L372.5 560.5 L382.5 560.5 L392.4 560.5 L402.4 560.5 L412.4 560.5 L422.3 560.5 L432.2 560.5 L442.2 560.5 L452.1 560.5 L462.1 560.5 L472.0 560.5 L482.0 560.5 L491.9 560.5 L501.9 560.5 L511.8 560.5 L521.8 560.5 L531.8 560.5 L541.7 560.5 L551.6 560.5 L561.6 560.5 L571.5 560.5 L581.5 560.5 L591.5 560.5 L601.4 560.5 L611.3 560.5 L621.3 560.5 L631.2 560.5 L641.2 560.5 L651.1 560.5 L661.1 560.5 L671.0 560.5 L681.0 560.5 L691.0 560.5 L700.9 560.5 L710.8 560.5 L720.8 560.5 L730.8 560.5 L740.7 560.5 L750.6 560.5 L760.6 560.5 L770.5 560.5 L780.5 560.5 L790.4 558.2 L800.4 560.5 L810.3 558.0"/>
<path stroke="#1450d0" d="M183.5 559.1 L193.4 558.7 L203.4 559.6 L213.3 560.5 L223.3 560.5 L233.2 560.5 L243.2 560.5 L253.1 559.2 L263.1 546.5 L273.1 540.3 L283.0 551.7 L292.9 556.4 L302.9 560.5 L312.9 560.5 L322.8 560.5 L332.8 560.5 L342.7 560.5 L352.6 560.5 L362.6 560.5 L372.5 560.5 L382.5 560.5 L392.4 560.5 L402.4 560.5 L412.4 560.5 L422.3 560.5 L432.2 560.5 L442.2 560.5 L452.1 560.5 L462.1 560.5 L472.0 560.5 L482.0 560.5 L491.9 560.5 L501.9 560.5 L511.8 560.5 L521.8 560.5 L531.8 560.5 L541.7 560.5 L551.6 560.5 L561.6 560.5 L571.5 560.5 L581.5 560.5 L591.5 560.5 L601.4 560.5 L611.3 560.5 L621.3 560.5 L631.2 560.5 L641.2 560.5 L651.1 560.5 L661.1 560.5 L671.0 560.5 L681.0 560.5 L691.0 560.5 L700.9 560.5 L710.8 560.5 L720.8 560.5 L730.8 552.5 L740.7 560.5 L750.6 560.5 L760.6 560.5 L770.5 560.5 L780.5 556.9 L790.4 555.5 L800.4 556.4 L810.3 547.2"/>
<path stroke="#1478d0" d="M183.5 560.1 L193.4 560.5 L203.4 559.7 L213.3 560.5 L223.3 560.5 L233.2 560.5 L243.2 560.5 L253.1 559.2 L263.1 521.5 L273.1 499.7 L283.0 542.8 L292.9 557.2 L302.9 560.5 L312.9 560.5 L322.8 560.5 L332.8 538.8 L342.7 549.9 L352.6 560.5 L362.6 560.5 L372.5 560.5 L382.5 560.5 L392.4 560.5 L402.4 560.5 L412.4 560.5 L422.3 560.5 L432.2 560.5 L442.2 560.5 L452.1 560.5 L462.1 560.5 L472.0 560.5 L482.0 560.5 L491.9 560.5 L501.9 560.5 L511.8 560.5 L521.8 560.5 L531.8 560.5 L541.7 560.5 L551.6 560.5 L561.6 560.5 L571.5 560.5 L581.5 560.5 L591.5 560.5 L601.4 560.5 L611.3 560.5 L621.3 560.5 L631.2 560.5 L641.2 560.5 L651.1 560.5 L661.1 560.5 L671.0 560.5 L681.0 560.5 L691.0 555.9 L700.9 551.2 L710.8 553.1 L720.8 560.5 L730.8 560.5 L740.7 560.5 L750.6 560.5 L760.6 560.5 L770.5 560.5 L780.5 560.5 L790.4 560.4 L800.4 560.5 L810.3 559.4"/>
<path stroke="#14a0d0" d="M183.5 560.5 L193.4 558.8 L203.4 560.0 L213.3 560.5 L223.3 560.5 L233.2 560.5 L243.2 560.5 L253.1 558.8 L263.1 494.0 L273.1 418.1 L283.0 535.4 L292.9 557.9 L302.9 557.8 L312.9 550.2 L322.8 560.5 L332.8 558.8 L342.7 560.5 L352.6 556.9 L362.6 560.5 L372.5 560.5 L382.5 560.5 L392.4 560.5 L402.4 560.5 L412.4 560.5 L422.3 560.5 L432.2 560.5 L442.2 560.5 L452.1 560.5 L462.1 560.5 L472.0 560.5 L482.0 560.5 L491.9 560.5 L501.9 560.5 L511.8 560.5 L521.8 560.5 L531.8 560.5 L541.7 560.5 L551.6 557.6 L561.6 545.9 L571.5 554.7 L581.5 547.2 L591.5 534.0 L601.4 555.2 L611.3 560.5 L621.3 556.5 L631.2 540.6 L641.2 556.5 L651.1 560.5 L661.1 560.5 L671.0 560.5 L681.0 560.5 L691.0 560.5 L700.9 560.5 L710.8 560.5 L720.8 560.5 L730.8 560.5 L740.7 560.5 L750.6 560.5 L760.6 539.3 L770.5 544.6 L780.5 475.7 L790.4 518.1 L800.4 547.0 L810.3 560.5"/>
<path stroke="#14b8c0" d="M183.5 558.1 L193.4 559.1 L203.4 559.2 L213.3 560.5 L223.3 560.5 L233.2 560.5 L243.2 560.5 L253.1 560.0 L263.1 547.4 L273.1 537.1 L283.0 551.7 L292.9 559.9 L302.9 551.4 L312.9 530.0 L322.8 551.4 L332.8 560.5 L342.7 560.5 L352.6 560.4 L362.6 560.5 L372.5 560.5 L382.5 560.5 L392.4 560.5 L402.4 560.5 L412.4 560.5 L422.3 560.5 L432.2 560.5 L442.2 560.5 L452.1 560.5 L462.1 560.5 L472.0 560.5 L482.0 560.5 L491.9 560.5 L501.9 560.5 L511.8 560.5 L521.8 560.5 L531.8 560.5 L541.7 560.5 L551.6 560.5 L561.6 560.5 L571.5 560.5 L581.5 560.5 L591.5 560.5 L601.4 560.5 L611.3 560.5 L621.3 560.5 L631.2 560.5 L641.2 560.5 L651.1 560.5 L661.1 560.5 L671.0 560.5 L681.0 560.5 L691.0 560.5 L700.9 553.1 L710.8 549.9 L720.8 557.3 L730.8 560.5 L740.7 560.5 L750.6 560.5 L760.6 556.5 L770.5 507.5 L780.5 507.5 L790.4 540.6 L800.4 542.8 L810.3 551.7"/>
<path stroke="#14b880" d="M183.5 560.2 L193.4 560.5 L203.4 557.8 L213.3 560.5 L223.3 560.5 L233.2 560.5 L243.2 560.5 L253.1 560.2 L263.1 535.8 L273.1 499.0 L283.0 538.2 L292.9 556.2 L302.9 549.8 L312.9 524.7 L322.8 553.3 L332.8 560.5 L342.7 558.2 L352.6 550.9 L362.6 560.5 L372.5 560.5 L382.5 556.9 L392.4 548.6 L402.4 556.9 L412.4 560.5 L422.3 560.5 L432.2 560.5 L442.2 560.5 L452.1 560.5 L462.1 560.5 L472.0 560.5 L482.0 557.3 L491.9 528.7 L501.9 557.3 L511.8 549.9 L521.8 558.4 L531.8 560.5 L541.7 560.5 L551.6 560.5 L561.6 560.5 L571.5 560.5 L581.5 560.5 L591.5 560.5 L601.4 560.5 L611.3 560.5 L621.3 560.5 L631.2 560.5 L641.2 560.5 L651.1 560.5 L661.1 560.5 L671.0 560.5 L681.0 560.5 L691.0 560.5 L700.9 560.5 L710.8 560.5 L720.8 560.5 L730.8 560.5 L740.7 560.5 L750.6 560.5 L760.6 560.5 L770.5 560.5 L780.5 560.5 L790.4 555.2 L800.4 548.6 L810.3 426.7"/>
<path stroke="#14b050" d="M183.5 559.4 L193.4 559.6 L203.4 560.5 L213.3 560.5 L223.3 560.5 L233.2 560.5 L243.2 560.5 L253.1 559.2 L263.1 458.9 L273.1 337.2 L283.0 511.6 L292.9 559.8 L302.9 558.8 L312.9 560.5 L322.8 560.5 L332.8 551.3 L342.7 540.6 L352.6 552.5 L362.6 560.5 L372.5 560.5 L382.5 560.5 L392.4 560.5 L402.4 560.5 L412.4 560.5 L422.3 560.5 L432.2 560.5 L442.2 560.5 L452.1 560.5 L462.1 560.5 L472.0 560.5 L482.0 560.5 L491.9 560.5 L501.9 560.5 L511.8 560.5 L521.8 560.5 L531.8 560.5 L541.7 560.5 L551.6 560.5 L561.6 560.5 L571.5 560.5 L581.5 560.5 L591.5 560.5 L601.4 543.3 L611.3 540.6 L621.3 556.5 L631.2 560.5 L641.2 560.5 L651.1 560.5 L661.1 542.3 L671.0 527.4 L681.0 550.6 L691.0 560.5 L700.9 560.5 L710.8 560.5 L720.8 560.5 L730.8 560.5 L740.7 560.5 L750.6 560.5 L760.6 560.5 L770.5 560.5 L780.5 560.5 L790.4 558.5 L800.4 558.7 L810.3 558.5"/>
<path stroke="#14b840" d="M183.5 560.5 L193.4 559.8 L203.4 559.1 L213.3 560.5 L223.3 560.5 L233.2 560.5 L243.2 560.5 L253.1 558.6 L263.1 524.4 L273.1 483.3 L283.0 539.7 L292.9 557.3 L302.9 560.5 L312.9 560.5 L322.8 553.3 L332.8 536.6 L342.7 548.6 L352.6 552.5 L362.6 560.5 L372.5 560.5 L382.5 560.5 L392.4 560.5 L402.4 560.5 L412.4 560.5 L422.3 560.5 L432.2 560.5 L442.2 560.5 L452.1 560.5 L462.1 560.5 L472.0 560.5 L482.0 560.5 L491.9 560.5 L501.9 560.5 L511.8 560.5 L521.8 560.5 L531.8 560.5 L541.7 560.5 L551.6 560.5 L561.6 560.5 L571.5 560.5 L581.5 560.5 L591.5 560.5 L601.4 560.5 L611.3 560.5 L621.3 560.5 L631.2 557.6 L641.2 545.9 L651.1 557.6 L661.1 560.5 L671.0 560.5 L681.0 560.5 L691.0 560.5 L700.9 554.7 L710.8 541.3 L720.8 556.7 L730.8 560.5 L740.7 560.5 L750.6 560.5 L760.6 560.5 L770.5 560.5 L780.5 560.5 L790.4 535.3 L800.4 554.8 L810.3 551.2"/>
<path stroke="#14c030" d="M183.5 560.1 L193.4 560.5 L203.4 559.2 L213.3 560.5 L223.3 560.5 L233.2 560.5 L243.2 560.5 L253.1 558.6 L263.1 498.6 L273.1 469.2 L283.0 543.6 L292.9 554.7 L302.9 560.5 L312.9 560.5 L322.8 560.5 L332.8 560.5 L342.7 558.6 L352.6 560.5 L362.6 560.5 L372.5 560.5 L382.5 560.5 L392.4 560.5 L402.4 560.5 L412.4 560.5 L422.3 560.5 L432.2 560.5 L442.2 560.5 L452.1 560.5 L462.1 560.5 L472.0 560.5 L482.0 560.5 L491.9 560.5 L501.9 560.5 L511.8 560.5 L521.8 560.5 L531.8 560.5 L541.7 560.5 L551.6 560.5 L561.6 560.5 L571.5 560.5 L581.5 560.5 L591.5 560.5 L601.4 560.5 L611.3 560.5 L621.3 560.5 L631.2 560.5 L641.2 560.5 L651.1 560.5 L661.1 560.5 L671.0 560.5 L681.0 560.5 L691.0 560.5 L700.9 560.5 L710.8 560.5 L720.8 560.5 L730.8 560.5 L740.7 560.5 L750.6 560.5 L760.6 560.5 L770.5 560.5 L780.5 558.3 L790.4 560.5 L800.4 556.5 L810.3 554.1"/>
<path stroke="#14d010" d="M183.5 560.2 L193.4 559.0 L203.4 559.8 L213.3 560.5 L223.3 560.5 L233.2 560.5 L243.2 560.5 L253.1 560.4 L263.1 542.4 L273.1 514.7 L283.0 544.1 L292.9 559.0 L302.9 560.5 L312.9 560.5 L322.8 560.5 L332.8 560.5 L342.7 560.5 L352.6 559.5 L362.6 560.5 L372.5 560.5 L382.5 560.5 L392.4 560.5 L402.4 560.5 L412.4 560.5 L422.3 560.5 L432.2 560.5 L442.2 560.5 L452.1 560.5 L462.1 560.5 L472.0 560.5 L482.0 560.5 L491.9 560.5 L501.9 560.5 L511.8 560.5 L521.8 560.5 L531.8 560.5 L541.7 560.5 L551.6 560.5 L561.6 560.5 L571.5 560.5 L581.5 560.5 L591.5 560.5 L601.4 560.5 L611.3 560.5 L621.3 560.5 L631.2 560.5 L641.2 560.5 L651.1 560.5 L661.1 560.5 L671.0 560.5 L681.0 560.5 L691.0 560.5 L700.9 560.5 L710.8 560.5 L720.8 560.5 L730.8 560.5 L740.7 560.5 L750.6 560.5 L760.6 560.5 L770.5 560.5 L780.5 559.0 L790.4 557.9 L800.4 548.5 L810.3 560.5"/>
<path stroke="#d8d010" d="M183.5 560.3 L193.4 560.1 L203.4 559.6 L213.3 560.5 L223.3 560.5 L233.2 560.5 L243.2 560.5 L253.1 559.8 L263.1 538.9 L273.1 499.1 L283.0 549.6 L292.9 556.7 L302.9 559.1 L312.9 558.7 L322.8 548.0 L332.8 560.5 L342.7 545.9 L352.6 531.4 L362.6 557.6 L372.5 560.5 L382.5 560.5 L392.4 560.5 L402.4 560.5 L412.4 560.5 L422.3 560.5 L432.2 560.5 L442.2 560.5 L452.1 560.5 L462.1 560.5 L472.0 560.5 L482.0 560.5 L491.9 560.5 L501.9 560.5 L511.8 557.7 L521.8 504.9 L531.8 557.7 L541.7 560.5 L551.6 560.5 L561.6 560.5 L571.5 560.5 L581.5 560.5 L591.5 560.5 L601.4 560.5 L611.3 560.5 L621.3 560.5 L631.2 560.5 L641.2 560.5 L651.1 560.5 L661.1 560.5 L671.0 560.5 L681.0 554.7 L691.0 541.3 L700.9 554.7 L710.8 560.5 L720.8 560.5 L730.8 560.5 L740.7 560.5 L750.6 560.5 L760.6 560.5 L770.5 560.5 L780.5 560.5 L790.4 560.5 L800.4 560.5 L810.3 560.5"/>
<path stroke="#d8c010" d="M183.5 559.2 L193.4 560.0 L203.4 560.5 L213.3 560.5 L223.3 560.5 L233.2 560.5 L243.2 560.5 L253.1 560.5 L263.1 496.4 L273.1 451.7 L283.0 512.9 L292.9 551.0 L302.9 544.6 L312.9 555.7 L322.8 560.5 L332.8 560.5 L342.7 538.4 L352.6 555.7 L362.6 560.5 L372.5 560.5 L382.5 560.5 L392.4 560.5 L402.4 560.5 L412.4 560.5 L422.3 560.5 L432.2 560.5 L442.2 560.5 L452.1 560.5 L462.1 560.5 L472.0 560.5 L482.0 560.5 L491.9 560.5 L501.9 560.5 L511.8 560.5 L521.8 560.5 L531.8 560.5 L541.7 560.5 L551.6 560.5 L561.6 560.5 L571.5 560.5 L581.5 560.5 L591.5 560.5 L601.4 560.5 L611.3 560.5 L621.3 560.5 L631.2 560.5 L641.2 560.5 L651.1 560.5 L661.1 560.5 L671.0 560.5 L681.0 560.5 L691.0 560.5 L700.9 560.5 L710.8 560.5 L720.8 560.5 L730.8 560.5 L740.7 560.5 L750.6 560.5 L760.6 560.5 L770.5 553.9 L780.5 540.6 L790.4 532.7 L800.4 545.9 L810.3 559.2"/>
<path stroke="#d8b010" d="M183.5 560.5 L193.4 560.5 L203.4 560.5 L213.3 560.5 L223.3 560.5 L233.2 560.5 L243.2 560.5 L253.1 558.7 L263.1 506.7 L273.1 469.4 L283.0 525.7 L292.9 558.2 L302.9 560.5 L312.9 560.5 L322.8 558.6 L332.8 560.5 L342.7 560.1 L352.6 560.5 L362.6 560.5 L372.5 560.5 L382.5 560.5 L392.4 560.5 L402.4 560.5 L412.4 560.5 L422.3 560.5 L432.2 560.5 L442.2 560.5 L452.1 560.5 L462.1 560.5 L472.0 560.5 L482.0 560.5 L491.9 560.5 L501.9 560.5 L511.8 560.5 L521.8 560.5 L531.8 560.5 L541.7 560.5 L551.6 560.5 L561.6 560.5 L571.5 560.5 L581.5 560.5 L591.5 560.5 L601.4 547.2 L611.3 485.0 L621.3 482.3 L631.2 531.4 L641.2 552.5 L651.1 557.1 L661.1 526.0 L671.0 551.9 L681.0 560.5 L691.0 560.5 L700.9 560.5 L710.8 560.5 L720.8 560.5 L730.8 560.5 L740.7 560.5 L750.6 560.5 L760.6 560.5 L770.5 560.5 L780.5 558.6 L790.4 543.3 L800.4 558.3 L810.3 560.5"/>
<path stroke="#d89810" d="M183.5 559.1 L193.4 558.3 L203.4 559.0 L213.3 560.5 L223.3 560.5 L233.2 560.5 L243.2 560.5 L253.1 558.5 L263.1 532.4 L273.1 482.5 L283.0 534.7 L292.9 554.7 L302.9 557.3 L312.9 560.5 L322.8 560.5 L332.8 552.9 L342.7 535.3 L352.6 545.4 L362.6 560.5 L372.5 560.5 L382.5 560.5 L392.4 560.5 L402.4 560.5 L412.4 560.5 L422.3 560.5 L432.2 560.5 L442.2 560.5 L452.1 560.5 L462.1 560.5 L472.0 560.5 L482.0 560.5 L491.9 560.5 L501.9 560.5 L511.8 560.5 L521.8 560.5 L531.8 560.5 L541.7 560.5 L551.6 560.5 L561.6 560.5 L571.5 560.5 L581.5 560.5 L591.5 560.5 L601.4 560.5 L611.3 560.5 L621.3 560.5 L631.2 560.5 L641.2 560.5 L651.1 560.5 L661.1 560.5 L671.0 560.5 L681.0 560.5 L691.0 560.5 L700.9 560.5 L710.8 560.5 L720.8 560.5 L730.8 560.5 L740.7 560.5 L750.6 560.5 L760.6 560.5 L770.5 560.5 L780.5 555.2 L790.4 560.5 L800.4 547.0 L810.3 560.5"/>
<path stroke="#d88010" d="M183.5 560.1 L193.4 560.5 L203.4 558.7 L213.3 560.5 L223.3 560.5 L233.2 560.5 L243.2 560.5 L253.1 560.0 L263.1 550.0 L273.1 541.6 L283.0 555.2 L292.9 555.9 L302.9 555.7 L312.9 536.6 L322.8 555.7 L332.8 560.5 L342.7 557.7 L352.6 560.5 L362.6 560.5 L372.5 560.5 L382.5 560.5 L392.4 560.5 L402.4 560.5 L412.4 560.5 L422.3 560.5 L432.2 560.5 L442.2 560.5 L452.1 560.5 L462.1 560.5 L472.0 560.5 L482.0 560.5 L491.9 560.5 L501.9 560.5 L511.8 560.5 L521.8 560.5 L531.8 560.5 L541.7 560.5 L551.6 555.5 L561.6 535.3 L571.5 552.9 L581.5 553.3 L591.5 524.7 L601.4 556.9 L611.3 560.5 L621.3 560.5 L631.2 560.5 L641.2 560.5 L651.1 560.5 L661.1 560.5 L671.0 560.5 L681.0 560.5 L691.0 560.5 L700.9 560.5 L710.8 560.5 L720.8 560.5 L730.8 560.5 L740.7 560.5 L750.6 560.5 L760.6 560.5 L770.5 560.5 L780.5 560.5 L790.4 560.5 L800.4 557.2 L810.3 560.5"/>
<path stroke="#d07010" d="M183.5 560.5 L193.4 560.5 L203.4 539.3 L213.3 560.5 L223.3 560.5 L233.2 560.5 L243.2 560.5 L253.1 559.9 L263.1 495.8 L273.1 390.9 L283.0 528.6 L292.9 556.1 L302.9 550.0 L312.9 560.5 L322.8 556.5 L332.8 558.2 L342.7 560.5 L352.6 558.6 L362.6 560.5 L372.5 560.5 L382.5 560.5 L392.4 560.5 L402.4 560.5 L412.4 560.5 L422.3 560.5 L432.2 560.5 L442.2 560.5 L452.1 560.5 L462.1 480.3 L472.0 528.4 L482.0 560.5 L491.9 560.5 L501.9 560.5 L511.8 560.5 L521.8 560.5 L531.8 560.5 L541.7 560.5 L551.6 560.5 L561.6 560.5 L571.5 560.5 L581.5 560.5 L591.5 560.5 L601.4 560.5 L611.3 560.5 L621.3 560.5 L631.2 560.5 L641.2 560.5 L651.1 560.5 L661.1 560.5 L671.0 560.5 L681.0 560.5 L691.0 560.5 L700.9 560.5 L710.8 560.5 L720.8 560.5 L730.8 560.5 L740.7 560.5 L750.6 560.5 L760.6 560.5 L770.5 560.5 L780.5 558.3 L790.4 560.3 L800.4 560.5 L810.3 551.6"/>
<path stroke="#d06018" d="M183.5 560.5 L193.4 559.1 L203.4 560.5 L213.3 560.5 L223.3 560.5 L233.2 560.5 L243.2 560.5 L253.1 558.8 L263.1 485.5 L273.1 380.3 L283.0 514.4 L292.9 555.8 L302.9 558.2 L312.9 560.5 L322.8 559.9 L332.8 556.8 L342.7 560.5 L352.6 558.8 L362.6 560.5 L372.5 560.5 L382.5 560.5 L392.4 560.5 L402.4 560.5 L412.4 560.5 L422.3 560.5 L432.2 560.5 L442.2 560.5 L452.1 560.5 L462.1 560.5 L472.0 560.5 L482.0 560.5 L491.9 560.5 L501.9 560.5 L511.8 560.5 L521.8 560.5 L531.8 560.5 L541.7 560.5 L551.6 560.5 L561.6 560.5 L571.5 560.5 L581.5 560.5 L591.5 560.5 L601.4 560.5 L611.3 560.5 L621.3 560.5 L631.2 560.5 L641.2 560.5 L651.1 560.5 L661.1 560.5 L671.0 560.5 L681.0 560.5 L691.0 560.5 L700.9 560.5 L710.8 560.5 L720.8 560.5 L730.8 560.5 L740.7 560.5 L750.6 560.5 L760.6 560.5 L770.5 560.5 L780.5 551.7 L790.4 557.4 L800.4 560.5 L810.3 560.5"/>
<path stroke="#c84820" d="M183.5 558.1 L193.4 559.3 L203.4 559.8 L213.3 560.5 L223.3 560.5 L233.2 560.5 L243.2 560.5 L253.1 560.4 L263.1 491.5 L273.1 404.1 L283.0 515.5 L292.9 560.3 L302.9 560.5 L312.9 560.5 L322.8 560.5 L332.8 560.5 L342.7 560.5 L352.6 560.5 L362.6 560.5 L372.5 560.5 L382.5 560.5 L392.4 560.5 L402.4 560.5 L412.4 560.5 L422.3 560.5 L432.2 560.5 L442.2 560.5 L452.1 560.5 L462.1 560.5 L472.0 560.5 L482.0 560.5 L491.9 560.5 L501.9 560.5 L511.8 560.5 L521.8 560.5 L531.8 560.5 L541.7 560.5 L551.6 560.5 L561.6 560.5 L571.5 560.5 L581.5 560.5 L591.5 560.5 L601.4 560.5 L611.3 560.5 L621.3 560.5 L631.2 560.5 L641.2 560.5 L651.1 560.5 L661.1 560.5 L671.0 560.5 L681.0 560.5 L691.0 560.5 L700.9 560.5 L710.8 560.5 L720.8 560.5 L730.8 560.5 L740.7 560.5 L750.6 560.5 L760.6 560.5 L770.5 560.5 L780.5 556.1 L790.4 542.0 L800.4 560.5 L810.3 560.5"/>
<path stroke="#c03020" d="M183.5 558.3 L193.4 560.3 L203.4 559.5 L213.3 560.5 L223.3 560.5 L233.2 560.5 L243.2 560.5 L253.1 560.0 L263.1 539.4 L273.1 498.2 L283.0 536.0 L292.9 559.6 L302.9 554.0 L312.9 560.5 L322.8 560.5 L332.8 560.4 L342.7 560.5 L352.6 560.5 L362.6 560.5 L372.5 560.5 L382.5 557.2 L392.4 553.9 L402.4 557.2 L412.4 560.5 L422.3 560.5 L432.2 560.5 L442.2 560.5 L452.1 531.4 L462.1 560.5 L472.0 560.5 L482.0 560.5 L491.9 560.5 L501.9 560.5 L511.8 560.5 L521.8 560.5 L531.8 560.5 L541.7 556.3 L551.6 518.1 L561.6 558.4 L571.5 560.5 L581.5 560.5 L591.5 560.5 L601.4 560.5 L611.3 559.0 L621.3 487.6 L631.2 556.9 L641.2 560.5 L651.1 560.5 L661.1 560.5 L671.0 560.5 L681.0 560.5 L691.0 560.5 L700.9 560.5 L710.8 560.5 L720.8 560.5 L730.8 560.5 L740.7 560.5 L750.6 560.5 L760.6 524.7 L770.5 549.8 L780.5 560.5 L790.4 560.5 L800.4 560.5 L810.3 559.2"/>
<path stroke="#a82020" d="M183.5 560.5 L193.4 560.5 L203.4 558.7 L213.3 560.5 L223.3 560.5 L233.2 560.5 L243.2 560.5 L253.1 559.1 L263.1 549.1 L273.1 526.4 L283.0 551.1 L292.9 559.3 L302.9 556.0 L312.9 560.5 L322.8 557.2 L332.8 560.5 L342.7 560.5 L352.6 560.5 L362.6 560.5 L372.5 560.5 L382.5 560.5 L392.4 560.5 L402.4 560.5 L412.4 560.5 L422.3 560.5 L432.2 560.5 L442.2 560.5 L452.1 560.5 L462.1 560.5 L472.0 560.5 L482.0 560.5 L491.9 560.5 L501.9 560.5 L511.8 560.5 L521.8 560.5 L531.8 560.5 L541.7 560.5 L551.6 560.5 L561.6 560.5 L571.5 560.5 L581.5 560.5 L591.5 560.5 L601.4 560.5 L611.3 560.5 L621.3 560.5 L631.2 560.5 L641.2 560.5 L651.1 560.5 L661.1 560.5 L671.0 560.5 L681.0 560.5 L691.0 560.5 L700.9 560.5 L710.8 560.5 L720.8 560.5 L730.8 560.5 L740.7 543.3 L750.6 490.9 L760.6 553.5 L770.5 534.0 L780.5 522.1 L790.4 524.7 L800.4 555.2 L810.3 560.5"/>
<path stroke="#1450d0" d="M183.5 559.1 L193.4 560.5 L203.4 560.5 L213.3 560.5 L223.3 560.5 L233.2 560.5 L243.2 560.5 L253.1 559.1 L263.1 521.2 L273.1 452.1 L283.0 514.1 L292.9 559.6 L302.9 560.5 L312.9 560.5 L322.8 557.8 L332.8 560.5 L342.7 560.5 L352.6 560.5 L362.6 560.5 L372.5 560.5 L382.5 560.5 L392.4 560.5 L402.4 560.5 L412.4 560.5 L422.3 560.5 L432.2 560.5 L442.2 560.5 L452.1 560.5 L462.1 560.5 L472.0 560.5 L482.0 560.5 L491.9 560.5 L501.9 560.5 L511.8 560.5 L521.8 560.5 L531.8 560.5 L541.7 560.5 L551.6 560.5 L561.6 560.5 L571.5 560.5 L581.5 560.5 L591.5 560.5 L601.4 560.5 L611.3 560.5 L621.3 560.5 L631.2 560.5 L641.2 560.5 L651.1 560.5 L661.1 560.5 L671.0 560.5 L681.0 560.5 L691.0 560.5 L700.9 560.5 L710.8 560.5 L720.8 560.5 L730.8 560.5 L740.7 560.5 L750.6 560.5 L760.6 560.5 L770.5 560.5 L780.5 556.4 L790.4 558.0 L800.4 560.5 L810.3 560.5"/>
<path stroke="#1478d0" d="M183.5 560.3 L193.4 560.5 L203.4 557.7 L213.3 560.5 L223.3 560.5 L233.2 560.5 L243.2 560.5 L253.1 559.2 L263.1 538.5 L273.1 523.7 L283.0 546.1 L292.9 555.7 L302.9 560.5 L312.9 560.2 L322.8 548.6 L332.8 543.9 L342.7 560.5 L352.6 560.5 L362.6 560.5 L372.5 560.5 L382.5 560.5 L392.4 560.5 L402.4 560.5 L412.4 560.5 L422.3 560.5 L432.2 560.5 L442.2 560.5 L452.1 560.5 L462.1 560.5 L472.0 560.5 L482.0 560.5 L491.9 560.5 L501.9 560.5 L511.8 560.5 L521.8 560.5 L531.8 560.5 L541.7 560.5 L551.6 560.5 L561.6 560.5 L571.5 560.5 L581.5 560.5 L591.5 560.5 L601.4 560.5 L611.3 560.5 L621.3 560.5 L631.2 560.5 L641.2 560.5 L651.1 560.5 L661.1 560.5 L671.0 560.5 L681.0 560.5 L691.0 560.5 L700.9 560.5 L710.8 560.5 L720.8 560.5 L730.8 560.5 L740.7 560.5 L750.6 560.5 L760.6 560.5 L770.5 560.5 L780.5 558.1 L790.4 551.1 L800.4 553.7 L810.3 556.5"/>
<path stroke="#14a0d0" d="M183.5 559.4 L193.4 559.0 L203.4 559.7 L213.3 560.5 L223.3 560.5 L233.2 560.5 L243.2 560.5 L253.1 559.6 L263.1 513.1 L273.1 457.3 L283.0 545.3 L292.9 556.9 L302.9 560.5 L312.9 560.5 L322.8 550.8 L332.8 560.5 L342.7 551.8 L352.6 558.7 L362.6 560.5 L372.5 560.5 L382.5 560.5 L392.4 560.5 L402.4 560.5 L412.4 560.5 L422.3 560.5 L432.2 560.5 L442.2 560.5 L452.1 560.5 L462.1 560.5 L472.0 560.5 L482.0 560.5 L491.9 560.5 L501.9 560.5 L511.8 560.5 L521.8 555.5 L531.8 461.1 L541.7 532.7 L551.6 547.2 L561.6 560.5 L571.5 560.5 L581.5 560.5 L591.5 560.5 L601.4 560.5 L611.3 560.5 L621.3 560.5 L631.2 560.5 L641.2 560.5 L651.1 560.5 L661.1 560.5 L671.0 560.5 L681.0 560.5 L691.0 560.5 L700.9 560.5 L710.8 560.5 L720.8 560.5 L730.8 560.5 L740.7 560.5 L750.6 560.5 L760.6 560.5 L770.5 560.5 L780.5 560.0 L790.4 555.7 L800.4 557.9 L810.3 543.5"/>
<path stroke="#14b8c0" d="M183.5 558.6 L193.4 560.3 L203.4 558.2 L213.3 560.5 L223.3 560.5 L233.2 560.5 L243.2 560.5 L253.1 558.8 L263.1 544.3 L273.1 529.4 L283.0 549.4 L292.9 555.9 L302.9 560.5 L312.9 555.8 L322.8 560.5 L332.8 560.5 L342.7 560.5 L352.6 560.5 L362.6 560.5 L372.5 560.5 L382.5 560.5 L392.4 560.5 L402.4 560.5 L412.4 560.5 L422.3 560.5 L432.2 560.5 L442.2 560.5 L452.1 560.5 L462.1 560.5 L472.0 560.5 L482.0 560.5 L491.9 560.5 L501.9 560.5 L511.8 560.5 L521.8 560.5 L531.8 560.5 L541.7 560.5 L551.6 560.5 L561.6 560.5 L571.5 560.5 L581.5 560.5 L591.5 560.5 L601.4 560.5 L611.3 560.5 L621.3 560.5 L631.2 560.5 L641.2 560.5 L651.1 560.5 L661.1 560.5 L671.0 560.5 L681.0 560.5 L691.0 560.5 L700.9 560.5 L710.8 560.5 L720.8 560.5 L730.8 560.5 L740.7 560.5 L750.6 560.5 L760.6 560.5 L770.5 560.5 L780.5 560.5 L790.4 560.3 L800.4 549.4 L810.3 559.6"/>
<path stroke="#14b880" d="M183.5 560.5 L193.4 560.0 L203.4 559.4 L213.3 560.5 L223.3 560.5 L233.2 560.5 L243.2 560.5 L253.1 559.4 L263.1 466.7 L273.1 352.5 L283.0 523.5 L292.9 558.4 L302.9 560.5 L312.9 554.3 L322.8 559.8 L332.8 560.5 L342.7 552.5 L352.6 560.5 L362.6 560.5 L372.5 560.5 L382.5 560.5 L392.4 560.5 L402.4 560.5 L412.4 560.5 L422.3 560.5 L432.2 560.5 L442.2 560.5 L452.1 560.5 L462.1 560.5 L472.0 560.5 L482.0 560.5 L491.9 560.5 L501.9 560.5 L511.8 560.5 L521.8 560.5 L531.8 560.5 L541.7 560.5 L551.6 560.5 L561.6 560.5 L571.5 560.5 L581.5 560.5 L591.5 560.5 L601.4 560.5 L611.3 560.5 L621.3 560.5 L631.2 560.5 L641.2 560.5 L651.1 560.5 L661.1 560.5 L671.0 560.5 L681.0 560.5 L691.0 560.5 L700.9 560.5 L710.8 560.5 L720.8 560.5 L730.8 560.5 L740.7 560.5 L750.6 560.5 L760.6 560.5 L770.5 560.5 L780.5 548.4 L790.4 558.1 L800.4 556.9 L810.3 560.3"/>
<path stroke="#14b050" d="M183.5 560.2 L193.4 560.5 L203.4 560.1 L213.3 560.5 L223.3 560.5 L233.2 560.5 L243.2 560.5 L253.1 558.6 L263.1 523.3 L273.1 493.3 L283.0 551.8 L292.9 557.1 L302.9 555.2 L312.9 560.5 L322.8 556.2 L332.8 560.5 L342.7 560.5 L352.6 560.5 L362.6 560.5 L372.5 560.5 L382.5 560.5 L392.4 560.5 L402.4 560.5 L412.4 560.5 L422.3 560.5 L432.2 560.5 L442.2 560.5 L452.1 560.5 L462.1 560.5 L472.0 560.5 L482.0 560.5 L491.9 560.5 L501.9 560.5 L511.8 560.5 L521.8 560.5 L531.8 560.5 L541.7 560.5 L551.6 560.5 L561.6 560.5 L571.5 560.5 L581.5 560.5 L591.5 560.5 L601.4 560.5 L611.3 560.5 L621.3 560.5 L631.2 560.5 L641.2 560.5 L651.1 560.5 L661.1 560.5 L671.0 560.5 L681.0 560.5 L691.0 560.5 L700.9 560.5 L710.8 560.5 L720.8 560.5 L730.8 560.5 L740.7 560.5 L750.6 560.5 L760.6 560.5 L770.5 560.5 L780.5 560.5 L790.4 560.5 L800.4 543.2 L810.3 553.6"/>
<path stroke="#14b840" d="M183.5 560.5 L193.4 560.5 L203.4 558.6 L213.3 560.5 L223.3 560.5 L233.2 560.5 L243.2 560.5 L253.1 559.6 L263.1 484.2 L273.1 447.0 L283.0 536.8 L292.9 559.7 L302.9 560.5 L312.9 558.4 L322.8 557.1 L332.8 560.5 L342.7 560.5 L352.6 559.5 L362.6 560.5 L372.5 560.5 L382.5 560.5 L392.4 560.5 L402.4 560.5 L412.4 560.5 L422.3 560.5 L432.2 560.5 L442.2 560.5 L452.1 560.5 L462.1 560.5 L472.0 560.5 L482.0 560.5 L491.9 560.5 L501.9 560.5 L511.8 560.5 L521.8 560.5 L531.8 560.5 L541.7 560.5 L551.6 560.5 L561.6 560.5 L571.5 560.5 L581.5 560.5 L591.5 560.5 L601.4 560.5 L611.3 560.5 L621.3 560.5 L631.2 560.5 L641.2 560.5 L651.1 560.5 L661.1 560.5 L671.0 560.5 L681.0 560.5 L691.0 560.5 L700.9 560.5 L710.8 560.5 L720.8 560.5 L730.8 560.5 L740.7 560.5 L750.6 560.5 L760.6 560.5 L770.5 560.5 L780.5 553.8 L790.4 551.5 L800.4 554.1 L810.3 551.1"/>
<path stroke="#14c030" d="M183.5 559.0 L193.4 559.8 L203.4 559.1 L213.3 560.5 L223.3 560.5 L233.2 560.5 L243.2 560.5 L253.1 559.1 L263.1 553.2 L273.1 542.3 L283.0 556.9 L292.9 558.4 L302.9 554.6 L312.9 560.5 L322.8 555.8 L332.8 554.5 L342.7 556.6 L352.6 557.6 L362.6 560.5 L372.5 560.5 L382.5 560.5 L392.4 560.5 L402.4 560.5 L412.4 560.5 L422.3 560.5 L432.2 560.5 L442.2 560.5 L452.1 560.5 L462.1 560.5 L472.0 560.5 L482.0 560.5 L491.9 560.5 L501.9 560.5 L511.8 560.5 L521.8 560.5 L531.8 560.5 L541.7 560.5 L551.6 560.5 L561.6 560.5 L571.5 560.5 L581.5 560.5 L591.5 560.5 L601.4 560.5 L611.3 560.5 L621.3 560.5 L631.2 560.5 L641.2 560.5 L651.1 560.5 L661.1 560.5 L671.0 560.5 L681.0 560.5 L691.0 560.5 L700.9 560.5 L710.8 560.5 L720.8 560.5 L730.8 560.5 L740.7 560.5 L750.6 560.5 L760.6 560.5 L770.5 560.5 L780.5 559.6 L790.4 559.3 L800.4 551.3 L810.3 560.2"/>
<path stroke="#14d010" d="M183.5 560.5 L193.4 560.5 L203.4 559.6 L213.3 560.5 L223.3 560.5 L233.2 560.5 L243.2 560.5 L253.1 559.7 L263.1 526.1 L273.1 490.5 L283.0 543.4 L292.9 557.0 L302.9 560.5 L312.9 559.7 L322.8 560.5 L332.8 560.5 L342.7 560.5 L352.6 560.5 L362.6 560.5 L372.5 560.5 L382.5 560.5 L392.4 560.5 L402.4 560.5 L412.4 560.5 L422.3 560.5 L432.2 560.5 L442.2 560.5 L452.1 560.5 L462.1 560.5 L472.0 560.5 L482.0 560.5 L491.9 560.5 L501.9 560.5 L511.8 560.5 L521.8 560.5 L531.8 560.5 L541.7 560.5 L551.6 560.5 L561.6 560.5 L571.5 560.5 L581.5 560.5 L591.5 560.5 L601.4 560.5 L611.3 560.5 L621.3 560.5 L631.2 560.5 L641.2 560.5 L651.1 560.5 L661.1 560.5 L671.0 560.5 L681.0 560.5 L691.0 560.5 L700.9 560.5 L710.8 560.5 L720.8 560.5 L730.8 560.5 L740.7 560.5 L750.6 560.5 L760.6 560.5 L770.5 560.5 L780.5 560.5 L790.4 559.3 L800.4 560.5 L810.3 553.8"/>
<path stroke="#d8d010" d="M183.5 558.1 L193.4 559.9 L203.4 559.4 L213.3 560.5 L223.3 560.5 L233.2 560.5 L243.2 560.5 L253.1 559.9 L263.1 495.0 L273.1 461.9 L283.0 538.4 L292.9 554.4 L302.9 551.9 L312.9 558.6 L322.8 538.2 L332.8 560.5 L342.7 560.5 L352.6 560.5 L362.6 560.5 L372.5 560.5 L382.5 560.5 L392.4 560.5 L402.4 560.5 L412.4 560.5 L422.3 560.5 L432.2 560.5 L442.2 560.5 L452.1 560.5 L462.1 560.5 L472.0 560.5 L482.0 560.5 L491.9 560.5 L501.9 560.5 L511.8 560.5 L521.8 560.5 L531.8 560.5 L541.7 560.5 L551.6 560.5 L561.6 560.5 L571.5 560.5 L581.5 560.5 L591.5 560.5 L601.4 560.5 L611.3 560.5 L621.3 560.5 L631.2 560.5 L641.2 560.5 L651.1 560.5 L661.1 560.5 L671.0 560.5 L681.0 560.5 L691.0 560.5 L700.9 560.5 L710.8 560.5 L720.8 560.5 L730.8 560.5 L740.7 560.5 L750.6 560.5 L760.6 560.5 L770.5 560.5 L780.5 560.5 L790.4 560.5 L800.4 560.0 L810.3 547.6"/>
</g>
<g fill="none" stroke-linejoin="round" stroke-linecap="butt">
<path stroke="#e84040" stroke-width="2.8" d="M183.5 248.4 L193.4 245.3 L203.4 246.3 L213.3 247.6 L223.3 245.8 L233.2 241.9 L243.2 238.6 L253.1 244.5 L263.1 244.5 L273.1 239.4 L283.0 237.5 L292.9 238.6 L302.9 238.6 L312.9 240.9 L322.8 243.2 L332.8 244.8 L342.7 243.9 L352.6 241.6 L362.6 238.4 L372.5 243.9 L382.5 244.8 L392.4 249.0 L402.4 249.7 L412.4 253.9 L422.3 254.0 L432.2 252.5 L442.2 251.3 L452.1 255.6 L462.1 252.0 L472.0 248.5 L482.0 246.0 L491.9 249.5 L501.9 247.0 L511.8 245.3 L521.8 247.0 L531.8 247.7 L541.7 245.0 L551.6 246.7 L561.6 248.0 L571.5 245.5 L581.5 244.2 L591.5 244.9 L601.4 246.0 L611.3 250.6 L621.3 247.7 L631.2 248.5 L641.2 247.0 L651.1 247.7 L661.1 248.5 L671.0 254.0 L681.0 256.6 L691.0 263.7 L700.9 262.0 L710.8 262.0 L720.8 260.9 L730.8 262.0 L740.7 262.7 L750.6 263.0 L760.6 263.7 L770.5 265.5 L780.5 265.5 L790.4 265.5 L800.4 264.8 L810.3 263.7"/>
<path stroke="#0000ff" stroke-width="2.8" d="M183.5 254.0 L193.4 236.0 L203.4 216.0 L213.3 203.2 L223.3 213.0 L233.2 196.0 L243.2 178.0 L253.1 181.0 L263.1 211.0 L273.1 241.0 L283.0 262.0 L292.9 268.0 L302.9 264.0 L312.9 256.0 L322.8 258.5 L332.8 266.5 L342.7 290.0 L352.6 297.5 L362.6 293.6 L372.5 280.5 L382.5 254.0 L392.4 229.0 L402.4 204.5 L412.4 212.6 L422.3 202.0 L432.2 191.0 L442.2 185.5 L452.1 190.0 L462.1 199.0 L472.0 210.0 L482.0 208.0 L491.9 204.5 L501.9 205.0 L511.8 199.0 L521.8 187.4 L531.8 176.8 L541.7 171.5 L551.6 175.0 L561.6 181.0 L571.5 192.7 L581.5 192.7 L591.5 196.3 L601.4 176.8 L611.3 192.7 L621.3 214.0 L631.2 230.0 L641.2 242.4 L651.1 253.0 L661.1 262.0 L671.0 269.8 L681.0 273.8 L691.0 313.4 L700.9 315.5 L710.8 306.3 L720.8 311.6 L730.8 313.4 L740.7 310.9 L750.6 295.7 L760.6 285.7 L770.5 295.7 L780.5 301.0 L790.4 306.3 L800.4 311.6 L810.3 302.8"/>
<path stroke="#0000ff" stroke-width="2.8" d="M183.5 560.5 L193.4 560.5 L203.4 560.5 L213.3 560.5 L223.3 560.5 L233.2 560.5 L243.2 560.5 L253.1 560.5 L263.1 531.4 L273.1 437.3 L283.0 536.6 L292.9 557.9 L302.9 553.9 L312.9 557.9 L322.8 560.5 L332.8 560.5 L342.7 560.5 L352.6 560.5 L362.6 560.5 L372.5 560.5 L382.5 560.5 L392.4 560.5 L402.4 560.5 L412.4 560.5 L422.3 560.5 L432.2 560.5 L442.2 560.5 L452.1 560.5 L462.1 560.5 L472.0 560.5 L482.0 560.5 L491.9 560.5 L501.9 560.5 L511.8 560.5 L521.8 560.5 L531.8 560.5 L541.7 560.5 L551.6 560.5 L561.6 560.5 L571.5 560.5 L581.5 560.5 L591.5 560.5 L601.4 560.5 L611.3 560.5 L621.3 560.5 L631.2 560.5 L641.2 560.5 L651.1 560.5 L661.1 560.5 L671.0 560.5 L681.0 559.2 L691.0 554.5 L700.9 554.5 L710.8 554.5 L720.8 559.2 L730.8 560.5 L740.7 560.5 L750.6 560.5 L760.6 560.5 L770.5 560.5 L780.5 560.5 L790.4 556.5 L800.4 559.2 L810.3 553.9"/>
<path stroke="#ffffff" stroke-width="2.8" d="M183.5 252.8 L193.4 235.5 L203.4 216.5 L213.3 209.2 L223.3 215.2 L233.2 195.5 L243.2 177.4 L253.1 179.2 L263.1 207.6 L273.1 236.8 L283.0 256.1 L292.9 263.9 L302.9 268.6 L312.9 259.0 L322.8 267.4 L332.8 283.0 L342.7 287.2 L352.6 288.2 L362.6 289.8 L372.5 277.0 L382.5 248.0 L392.4 227.0 L402.4 215.8 L412.4 202.9 L422.3 191.0 L432.2 187.5 L442.2 188.1 L452.1 196.3 L462.1 204.5 L472.0 209.4 L482.0 210.5 L491.9 212.3 L501.9 207.0 L511.8 204.5 L521.8 203.4 L531.8 204.5 L541.7 197.4 L551.6 194.5 L561.6 195.6 L571.5 197.6 L581.5 198.8 L591.5 201.6 L601.4 207.0 L611.3 213.0 L621.3 215.8 L631.2 216.5 L641.2 221.0 L651.1 224.0 L661.1 226.5 L671.0 229.3 L681.0 230.8 L691.0 234.4 L700.9 235.3 L710.8 234.3 L720.8 234.6 L730.8 235.7 L740.7 231.0 L750.6 228.2 L760.6 229.0 L770.5 230.0 L780.5 231.4 L790.4 234.3 L800.4 237.8 L810.3 243.1"/>
<path stroke="#ffffff" stroke-width="2.8" d="M183.5 559.7 L193.4 559.9 L203.4 558.8 L213.3 560.5 L223.3 560.5 L233.2 560.5 L243.2 560.5 L253.1 559.2 L263.1 515.5 L273.1 471.1 L283.0 542.0 L292.9 557.2 L302.9 556.5 L312.9 552.3 L322.8 556.5 L332.8 556.5 L342.7 553.9 L352.6 553.2 L362.6 560.1 L372.5 560.5 L382.5 560.3 L392.4 559.9 L402.4 560.3 L412.4 560.5 L422.3 560.5 L432.2 560.5 L442.2 560.5 L452.1 559.5 L462.1 557.8 L472.0 559.4 L482.0 560.4 L491.9 559.4 L501.9 560.4 L511.8 560.1 L521.8 558.4 L531.8 557.1 L541.7 559.4 L551.6 558.4 L561.6 559.1 L571.5 560.1 L581.5 559.8 L591.5 558.4 L601.4 559.2 L611.3 557.3 L621.3 555.2 L631.2 558.6 L641.2 559.6 L651.1 560.3 L661.1 558.7 L671.0 559.1 L681.0 560.0 L691.0 559.7 L700.9 559.6 L710.8 559.3 L720.8 560.3 L730.8 560.2 L740.7 559.9 L750.6 558.2 L760.6 558.2 L770.5 556.7 L780.5 552.1 L790.4 552.6 L800.4 554.9 L810.3 552.3"/>
<path stroke="#00e000" stroke-width="2.8" d="M183.5 249.7 L193.4 229.5 L203.4 211.0 L213.3 206.0 L223.3 212.3 L233.2 189.0 L243.2 172.8 L253.1 178.7 L263.1 205.8 L273.1 234.2 L283.0 253.5 L292.9 269.0 L302.9 260.0 L312.9 253.0 L322.8 264.2 L332.8 283.5 L342.7 288.4 L352.6 288.4 L362.6 298.0 L372.5 291.6 L382.5 282.0 L392.4 236.8 L402.4 222.0 L412.4 215.8 L422.3 200.0 L432.2 189.0 L442.2 183.9 L452.1 192.7 L462.1 205.0 L472.0 213.0 L482.0 209.4 L491.9 204.5 L501.9 226.5 L511.8 263.7 L521.8 273.3 L531.8 270.8 L541.7 284.0 L551.6 285.0 L561.6 241.5 L571.5 227.5 L581.5 219.4 L591.5 208.7 L601.4 205.2 L611.3 216.5 L621.3 205.2 L631.2 204.5 L641.2 194.5 L651.1 194.5 L661.1 185.6 L671.0 194.5 L681.0 192.7 L691.0 202.3 L700.9 203.4 L710.8 211.4 L720.8 203.4 L730.8 192.7 L740.7 184.6 L750.6 189.2 L760.6 196.3 L770.5 194.5 L780.5 192.7 L790.4 192.7 L800.4 203.4 L810.3 221.1"/>
<path stroke="#00e000" stroke-width="2.8" d="M183.5 560.5 L193.4 560.5 L203.4 560.5 L213.3 560.5 L223.3 560.5 L233.2 560.5 L243.2 560.5 L253.1 560.5 L263.1 550.6 L273.1 514.8 L283.0 557.9 L292.9 560.5 L302.9 557.9 L312.9 552.5 L322.8 544.6 L332.8 552.5 L342.7 551.2 L352.6 547.2 L362.6 559.2 L372.5 560.5 L382.5 560.5 L392.4 560.5 L402.4 560.5 L412.4 560.5 L422.3 560.5 L432.2 560.5 L442.2 560.5 L452.1 560.5 L462.1 560.5 L472.0 560.5 L482.0 560.5 L491.9 560.5 L501.9 513.5 L511.8 496.2 L521.8 519.4 L531.8 558.5 L541.7 557.9 L551.6 560.5 L561.6 560.5 L571.5 560.5 L581.5 560.5 L591.5 560.5 L601.4 560.5 L611.3 560.5 L621.3 560.5 L631.2 560.5 L641.2 560.5 L651.1 560.5 L661.1 560.5 L671.0 560.5 L681.0 560.5 L691.0 560.5 L700.9 560.5 L710.8 560.5 L720.8 560.5 L730.8 560.5 L740.7 560.5 L750.6 560.5 L760.6 560.5 L770.5 560.5 L780.5 560.5 L790.4 557.9 L800.4 548.6 L810.3 556.5"/>
</g>
<path d="M163.5 30.5 H810.5 V560.5 H163.5 Z" fill="none" stroke="#fff" stroke-width="1"/>
<g stroke="#fff" stroke-width="1">
<path d="M810.5 560.5 h-5.4"/>
<path d="M810.5 547.5 h-3.4"/>
<path d="M810.5 534.5 h-5.4"/>
<path d="M810.5 520.5 h-3.4"/>
<path d="M810.5 507.5 h-5.4"/>
<path d="M810.5 494.5 h-3.4"/>
<path d="M810.5 481.5 h-5.4"/>
<path d="M810.5 467.5 h-3.4"/>
<path d="M810.5 454.5 h-5.4"/>
<path d="M810.5 441.5 h-3.4"/>
<path d="M810.5 428.5 h-5.4"/>
<path d="M810.5 414.5 h-3.4"/>
<path d="M810.5 401.5 h-5.4"/>
<path d="M810.5 388.5 h-3.4"/>
<path d="M810.5 375.5 h-5.4"/>
<path d="M810.5 361.5 h-3.4"/>
<path d="M810.5 348.5 h-5.4"/>
<path d="M810.5 335.5 h-3.4"/>
<path d="M810.5 322.5 h-5.4"/>
<path d="M810.5 308.5 h-3.4"/>
<path d="M810.5 295.5 h-5.4"/>
<path d="M810.5 282.5 h-3.4"/>
<path d="M810.5 269.5 h-5.4"/>
<path d="M810.5 255.5 h-3.4"/>
<path d="M810.5 242.5 h-5.4"/>
<path d="M810.5 229.5 h-3.4"/>
<path d="M810.5 216.5 h-5.4"/>
<path d="M810.5 202.5 h-3.4"/>
<path d="M810.5 189.5 h-5.4"/>
<path d="M810.5 176.5 h-3.4"/>
<path d="M810.5 163.5 h-5.4"/>
<path d="M810.5 149.5 h-3.4"/>
<path d="M810.5 136.5 h-5.4"/>
<path d="M810.5 123.5 h-3.4"/>
<path d="M810.5 110.5 h-5.4"/>
<path d="M810.5 96.5 h-3.4"/>
<path d="M810.5 83.5 h-5.4"/>
<path d="M810.5 70.5 h-3.4"/>
<path d="M810.5 57.5 h-5.4"/>
<path d="M810.5 43.5 h-3.4"/>
<path d="M810.5 30.5 h-5.4"/>
</g>
<g fill="#fff" stroke="#fff" stroke-width="0.12" font-family="'Liberation Sans', sans-serif" font-size="10.1">
<text x="140.8" y="33.2" text-anchor="start" textLength="12.7" lengthAdjust="spacingAndGlyphs">25</text>
<text x="140.8" y="92.1" text-anchor="start" textLength="12.7" lengthAdjust="spacingAndGlyphs">20</text>
<text x="140.8" y="151.0" text-anchor="start" textLength="12.7" lengthAdjust="spacingAndGlyphs">15</text>
<text x="140.8" y="209.9" text-anchor="start" textLength="12.7" lengthAdjust="spacingAndGlyphs">10</text>
<text x="147.1" y="268.8" text-anchor="start" textLength="6.4" lengthAdjust="spacingAndGlyphs">5</text>
<text x="147.1" y="326.8" text-anchor="start" textLength="6.4" lengthAdjust="spacingAndGlyphs">0</text>
<text x="143.5" y="386.7" text-anchor="start" textLength="10.0" lengthAdjust="spacingAndGlyphs">-5</text>
<text x="137.2" y="445.6" text-anchor="start" textLength="16.3" lengthAdjust="spacingAndGlyphs">-10</text>
<text x="137.2" y="504.5" text-anchor="start" textLength="16.3" lengthAdjust="spacingAndGlyphs">-15</text>
<text x="137.2" y="563.4" text-anchor="start" textLength="16.3" lengthAdjust="spacingAndGlyphs">-20</text>
<text x="817.4" y="33.1" text-anchor="start" textLength="12.7" lengthAdjust="spacingAndGlyphs">40</text>
<text x="817.4" y="164.8" text-anchor="start" textLength="12.7" lengthAdjust="spacingAndGlyphs">30</text>
<text x="817.4" y="298.1" text-anchor="start" textLength="12.7" lengthAdjust="spacingAndGlyphs">20</text>
<text x="817.4" y="429.8" text-anchor="start" textLength="12.7" lengthAdjust="spacingAndGlyphs">10</text>
<text x="817.4" y="563.1" text-anchor="start" textLength="6.4" lengthAdjust="spacingAndGlyphs">0</text>
<text x="162.3" y="576.9" text-anchor="middle" textLength="55.2" lengthAdjust="spacingAndGlyphs">19Sep 00z</text>
<text x="241.9" y="576.9" text-anchor="middle" textLength="55.2" lengthAdjust="spacingAndGlyphs">21Sep 00z</text>
<text x="321.5" y="576.9" text-anchor="middle" textLength="55.2" lengthAdjust="spacingAndGlyphs">23Sep 00z</text>
<text x="401.2" y="576.9" text-anchor="middle" textLength="55.2" lengthAdjust="spacingAndGlyphs">25Sep 00z</text>
<text x="480.8" y="576.9" text-anchor="middle" textLength="55.2" lengthAdjust="spacingAndGlyphs">27Sep 00z</text>
<text x="560.4" y="576.9" text-anchor="middle" textLength="55.2" lengthAdjust="spacingAndGlyphs">29Sep 00z</text>
<text x="640.0" y="576.9" text-anchor="middle" textLength="55.2" lengthAdjust="spacingAndGlyphs">01Oct 00z</text>
<text x="719.6" y="576.9" text-anchor="middle" textLength="55.2" lengthAdjust="spacingAndGlyphs">03Oct 00z</text>
<text x="799.3" y="576.9" text-anchor="middle" textLength="55.2" lengthAdjust="spacingAndGlyphs">05Oct 00z</text>
<text x="486.1" y="592.8" text-anchor="middle" textLength="59.0" lengthAdjust="spacingAndGlyphs">Date (UTC)</text>
<text transform="translate(135.3 296) rotate(-90)" text-anchor="middle" textLength="102" lengthAdjust="spacingAndGlyphs">850 hPa Temp. (°C)</text>
<text transform="translate(842.4 296.5) rotate(-90)" text-anchor="middle" textLength="101.7" lengthAdjust="spacingAndGlyphs">Niederschlag (mm)</text>
<path d="M0.0 41.0 H7.7" stroke="#1428c8" stroke-width="1.7"/>
<text x="8.4" y="43.0" text-anchor="start" textLength="12.2" lengthAdjust="spacingAndGlyphs">P1</text>
<path d="M53.2 41.0 H63.9" stroke="#1450d0" stroke-width="1.7"/>
<text x="64.6" y="43.0" text-anchor="start" textLength="12.2" lengthAdjust="spacingAndGlyphs">P2</text>
<path d="M0.0 56.0 H7.7" stroke="#1478d0" stroke-width="1.7"/>
<text x="8.4" y="58.0" text-anchor="start" textLength="12.2" lengthAdjust="spacingAndGlyphs">P3</text>
<path d="M53.2 56.0 H63.9" stroke="#14a0d0" stroke-width="1.7"/>
<text x="64.6" y="58.0" text-anchor="start" textLength="12.2" lengthAdjust="spacingAndGlyphs">P4</text>
<path d="M0.0 71.0 H7.7" stroke="#14b8c0" stroke-width="1.7"/>
<text x="8.4" y="73.0" text-anchor="start" textLength="12.2" lengthAdjust="spacingAndGlyphs">P5</text>
<path d="M53.2 71.0 H63.9" stroke="#14b880" stroke-width="1.7"/>
<text x="64.6" y="73.0" text-anchor="start" textLength="12.2" lengthAdjust="spacingAndGlyphs">P6</text>
<path d="M0.0 86.0 H7.7" stroke="#14b050" stroke-width="1.7"/>
<text x="8.4" y="88.0" text-anchor="start" textLength="12.2" lengthAdjust="spacingAndGlyphs">P7</text>
<path d="M53.2 86.0 H63.9" stroke="#14b840" stroke-width="1.7"/>
<text x="64.6" y="88.0" text-anchor="start" textLength="12.2" lengthAdjust="spacingAndGlyphs">P8</text>
<path d="M0.0 101.0 H7.7" stroke="#14c030" stroke-width="1.7"/>
<text x="8.4" y="103.0" text-anchor="start" textLength="12.2" lengthAdjust="spacingAndGlyphs">P9</text>
<path d="M53.2 101.0 H63.9" stroke="#14d010" stroke-width="1.7"/>
<text x="64.6" y="103.0" text-anchor="start" textLength="18.7" lengthAdjust="spacingAndGlyphs">P10</text>
<path d="M0.0 116.0 H7.7" stroke="#d8d010" stroke-width="1.7"/>
<text x="8.4" y="118.0" text-anchor="start" textLength="18.7" lengthAdjust="spacingAndGlyphs">P11</text>
<path d="M53.2 116.0 H63.9" stroke="#d8c010" stroke-width="1.7"/>
<text x="64.6" y="118.0" text-anchor="start" textLength="18.7" lengthAdjust="spacingAndGlyphs">P12</text>
<path d="M0.0 131.0 H7.7" stroke="#d8b010" stroke-width="1.7"/>
<text x="8.4" y="133.0" text-anchor="start" textLength="18.7" lengthAdjust="spacingAndGlyphs">P13</text>
<path d="M53.2 131.0 H63.9" stroke="#d89810" stroke-width="1.7"/>
<text x="64.6" y="133.0" text-anchor="start" textLength="18.7" lengthAdjust="spacingAndGlyphs">P14</text>
<path d="M0.0 146.0 H7.7" stroke="#d88010" stroke-width="1.7"/>
<text x="8.4" y="148.0" text-anchor="start" textLength="18.7" lengthAdjust="spacingAndGlyphs">P15</text>
<path d="M53.2 146.0 H63.9" stroke="#d07010" stroke-width="1.7"/>
<text x="64.6" y="148.0" text-anchor="start" textLength="18.7" lengthAdjust="spacingAndGlyphs">P16</text>
<path d="M0.0 161.0 H7.7" stroke="#d06018" stroke-width="1.7"/>
<text x="8.4" y="163.0" text-anchor="start" textLength="18.7" lengthAdjust="spacingAndGlyphs">P17</text>
<path d="M53.2 161.0 H63.9" stroke="#c84820" stroke-width="1.7"/>
<text x="64.6" y="163.0" text-anchor="start" textLength="18.7" lengthAdjust="spacingAndGlyphs">P18</text>
<path d="M0.0 176.0 H7.7" stroke="#c03020" stroke-width="1.7"/>
<text x="8.4" y="178.0" text-anchor="start" textLength="18.7" lengthAdjust="spacingAndGlyphs">P19</text>
<path d="M53.2 176.0 H63.9" stroke="#a82020" stroke-width="1.7"/>
<text x="64.6" y="178.0" text-anchor="start" textLength="18.7" lengthAdjust="spacingAndGlyphs">P20</text>
<path d="M0.0 191.0 H7.7" stroke="#1450d0" stroke-width="1.7"/>
<text x="8.4" y="193.0" text-anchor="start" textLength="18.7" lengthAdjust="spacingAndGlyphs">P21</text>
<path d="M53.2 191.0 H63.9" stroke="#1478d0" stroke-width="1.7"/>
<text x="64.6" y="193.0" text-anchor="start" textLength="18.7" lengthAdjust="spacingAndGlyphs">P22</text>
<path d="M0.0 206.0 H7.7" stroke="#14a0d0" stroke-width="1.7"/>
<text x="8.4" y="208.0" text-anchor="start" textLength="18.7" lengthAdjust="spacingAndGlyphs">P23</text>
<path d="M53.2 206.0 H63.9" stroke="#14b8c0" stroke-width="1.7"/>
<text x="64.6" y="208.0" text-anchor="start" textLength="18.7" lengthAdjust="spacingAndGlyphs">P24</text>
<path d="M0.0 221.0 H7.7" stroke="#14b880" stroke-width="1.7"/>
<text x="8.4" y="223.0" text-anchor="start" textLength="18.7" lengthAdjust="spacingAndGlyphs">P25</text>
<path d="M53.2 221.0 H63.9" stroke="#14b050" stroke-width="1.7"/>
<text x="64.6" y="223.0" text-anchor="start" textLength="18.7" lengthAdjust="spacingAndGlyphs">P26</text>
<path d="M0.0 236.0 H7.7" stroke="#14b840" stroke-width="1.7"/>
<text x="8.4" y="238.0" text-anchor="start" textLength="18.7" lengthAdjust="spacingAndGlyphs">P27</text>
<path d="M53.2 236.0 H63.9" stroke="#14c030" stroke-width="1.7"/>
<text x="64.6" y="238.0" text-anchor="start" textLength="18.7" lengthAdjust="spacingAndGlyphs">P28</text>
<path d="M0.0 251.0 H7.7" stroke="#14d010" stroke-width="1.7"/>
<text x="8.4" y="253.0" text-anchor="start" textLength="18.7" lengthAdjust="spacingAndGlyphs">P29</text>
<path d="M53.2 251.0 H63.9" stroke="#d8d010" stroke-width="1.7"/>
<text x="64.6" y="253.0" text-anchor="start" textLength="18.7" lengthAdjust="spacingAndGlyphs">P30</text>
<path d="M0 266.8 H7.7" stroke="#0000ff" stroke-width="1.5"/>
<text x="8.4" y="268.8" text-anchor="start" textLength="37.2" lengthAdjust="spacingAndGlyphs">Control</text>
<path d="M53.2 266.8 H63.9" stroke="#fff" stroke-width="2.2"/>
<text x="64.7" y="268.8" text-anchor="start" textLength="54.3" lengthAdjust="spacingAndGlyphs">Ens. mean</text>
<path d="M53.2 293.1 H63.9" stroke="#e84040" stroke-width="2"/>
<text x="64.7" y="296.6" text-anchor="start" textLength="56.9" lengthAdjust="spacingAndGlyphs">1991-2020</text>
<text x="64.7" y="306.6" text-anchor="start" textLength="28.6" lengthAdjust="spacingAndGlyphs">mean</text>
<path d="M0 307 H7.7" stroke="#00e000" stroke-width="1.5"/>
<text x="8.4" y="309.0" text-anchor="start" textLength="24.5" lengthAdjust="spacingAndGlyphs">Oper</text>
</g>
<g fill="#fff" font-family="'Liberation Sans', sans-serif" font-size="16.6">
<text x="119.7" y="603.3" text-anchor="start" textLength="203.6" lengthAdjust="spacingAndGlyphs">GFS Ensemble, 51.5N, 7E</text>
<text x="650.2" y="603.5" text-anchor="start" textLength="144.0" lengthAdjust="spacingAndGlyphs">Wetterzentrale.de</text>
</g>
<g fill="#fff" font-family="'Liberation Sans', sans-serif" font-size="16.5" font-weight="bold" stroke="#fff" stroke-width="0.3">
<rect x="587.6" y="4.9" width="2.2" height="15.6" stroke="none"/>
<text x="91.2" y="16.9" text-anchor="start" textLength="96.2" lengthAdjust="spacingAndGlyphs">Düsseldorf</text>
<text x="195.0" y="16.9" text-anchor="start" textLength="53.0" lengthAdjust="spacingAndGlyphs">40468</text>
<text x="255.8" y="16.9" text-anchor="start" textLength="37.2" lengthAdjust="spacingAndGlyphs">(DE)</text>
<text x="305.6" y="16.9" text-anchor="start" textLength="32.4" lengthAdjust="spacingAndGlyphs">850</text>
<text x="344.4" y="16.9" text-anchor="start" textLength="32.6" lengthAdjust="spacingAndGlyphs">hPa</text>
<text x="382.5" y="16.9" text-anchor="start" textLength="53.0" lengthAdjust="spacingAndGlyphs">Temp.</text>
<text x="443.2" y="16.9" text-anchor="start" textLength="13.3" lengthAdjust="spacingAndGlyphs">&amp;</text>
<text x="462.7" y="16.9" text-anchor="start" textLength="116.4" lengthAdjust="spacingAndGlyphs">Niederschlag</text>
<text x="597.2" y="16.9" text-anchor="start" textLength="36.1" lengthAdjust="spacingAndGlyphs">Tue,</text>
<text x="640.8" y="16.9" text-anchor="start" textLength="97.7" lengthAdjust="spacingAndGlyphs">19Sep2023</text>
<text x="746.8" y="16.9" text-anchor="start" textLength="32.8" lengthAdjust="spacingAndGlyphs">06Z</text>
</g>
</svg>
</body></html>
